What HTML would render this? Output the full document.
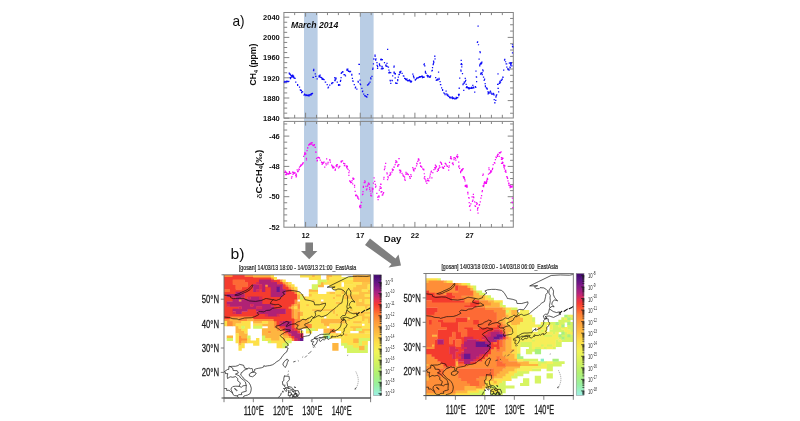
<!DOCTYPE html>
<html lang="en"><head><meta charset="utf-8"><title>CH4 and d13C-CH4 at Gosan, March 2014</title>
<style>html,body{margin:0;padding:0;background:#fff}body{width:800px;height:421px;overflow:hidden}svg{display:block}text{font-family:"Liberation Sans", Arial, Helvetica, sans-serif}</style></head><body>
<svg width="800" height="421" viewBox="0 0 800 421">
<defs><linearGradient id="cb" x1="0" y1="0" x2="0" y2="1"><stop offset="0" stop-color="#43106e"/><stop offset="0.05" stop-color="#5a1282"/><stop offset="0.11" stop-color="#8a1c88"/><stop offset="0.165" stop-color="#b8247a"/><stop offset="0.21" stop-color="#e23052"/><stop offset="0.245" stop-color="#f63a30"/><stop offset="0.29" stop-color="#fd5a30"/><stop offset="0.335" stop-color="#fe8035"/><stop offset="0.39" stop-color="#fe9a3a"/><stop offset="0.47" stop-color="#feb940"/><stop offset="0.56" stop-color="#fde04a"/><stop offset="0.64" stop-color="#f1f457"/><stop offset="0.73" stop-color="#d2f25e"/><stop offset="0.82" stop-color="#b0f173"/><stop offset="0.91" stop-color="#98f0a0"/><stop offset="1" stop-color="#9cf0e6"/></linearGradient><filter id="soft" x="-2%" y="-2%" width="104%" height="104%"><feGaussianBlur stdDeviation="0.45"/></filter><filter id="soft2" x="-2%" y="-2%" width="104%" height="104%"><feGaussianBlur stdDeviation="0.3"/></filter><filter id="soft3" x="-2%" y="-2%" width="104%" height="104%"><feGaussianBlur stdDeviation="0.22"/></filter></defs>
<rect width="800" height="421" fill="#fff"/>
<g id="charts" filter="url(#soft2)">
<rect x="304" y="12.5" width="13.6" height="214.7" fill="#b9cde5"/>
<rect x="360" y="12.5" width="13.6" height="214.7" fill="#b9cde5"/>
<g fill="none" stroke="#848484" stroke-width="1">
<rect x="283.9" y="12.5" width="229.4" height="105.5"/>
<rect x="283.9" y="121.4" width="229.4" height="105.8"/>
<path d="M294.67 12.5v2.6M294.67 118v-3.2M294.67 121.4v2.6M294.67 227.2v-3.2M305.6 12.5v4.2M305.6 118v-5.3M305.6 121.4v4.2M305.6 227.2v-5.3M316.53 12.5v2.6M316.53 118v-3.2M316.53 121.4v2.6M316.53 227.2v-3.2M327.46 12.5v2.6M327.46 118v-3.2M327.46 121.4v2.6M327.46 227.2v-3.2M338.39 12.5v2.6M338.39 118v-3.2M338.39 121.4v2.6M338.39 227.2v-3.2M349.32 12.5v2.6M349.32 118v-3.2M349.32 121.4v2.6M349.32 227.2v-3.2M360.25 12.5v4.2M360.25 118v-5.3M360.25 121.4v4.2M360.25 227.2v-5.3M371.18 12.5v2.6M371.18 118v-3.2M371.18 121.4v2.6M371.18 227.2v-3.2M382.11 12.5v2.6M382.11 118v-3.2M382.11 121.4v2.6M382.11 227.2v-3.2M393.04 12.5v2.6M393.04 118v-3.2M393.04 121.4v2.6M393.04 227.2v-3.2M403.97 12.5v2.6M403.97 118v-3.2M403.97 121.4v2.6M403.97 227.2v-3.2M414.9 12.5v4.2M414.9 118v-5.3M414.9 121.4v4.2M414.9 227.2v-5.3M425.83 12.5v2.6M425.83 118v-3.2M425.83 121.4v2.6M425.83 227.2v-3.2M436.76 12.5v2.6M436.76 118v-3.2M436.76 121.4v2.6M436.76 227.2v-3.2M447.69 12.5v2.6M447.69 118v-3.2M447.69 121.4v2.6M447.69 227.2v-3.2M458.62 12.5v2.6M458.62 118v-3.2M458.62 121.4v2.6M458.62 227.2v-3.2M469.55 12.5v4.2M469.55 118v-5.3M469.55 121.4v4.2M469.55 227.2v-5.3M480.48 12.5v2.6M480.48 118v-3.2M480.48 121.4v2.6M480.48 227.2v-3.2M491.41 12.5v2.6M491.41 118v-3.2M491.41 121.4v2.6M491.41 227.2v-3.2M502.34 12.5v2.6M502.34 118v-3.2M502.34 121.4v2.6M502.34 227.2v-3.2M283.9 118.2h5.4M283.9 113.15h3.3M283.9 108.1h3.3M283.9 103.05h3.3M283.9 98h5.4M283.9 92.95h3.3M283.9 87.9h3.3M283.9 82.85h3.3M283.9 77.8h5.4M283.9 72.75h3.3M283.9 67.7h3.3M283.9 62.65h3.3M283.9 57.6h5.4M283.9 52.55h3.3M283.9 47.5h3.3M283.9 42.45h3.3M283.9 37.4h5.4M283.9 32.35h3.3M283.9 27.3h3.3M283.9 22.25h3.3M283.9 17.2h5.4M513.3 18.44h-3.2M513.3 24.76h-3.2M513.3 31.08h-3.2M513.3 37.4h-5.6M513.3 43.72h-3.2M513.3 50.04h-3.2M513.3 56.36h-3.2M513.3 62.68h-3.2M513.3 69h-5.6M513.3 75.32h-3.2M513.3 81.64h-3.2M513.3 87.96h-3.2M513.3 94.28h-3.2M513.3 100.6h-5.6M513.3 106.92h-3.2M513.3 113.24h-3.2M283.9 123.98h3.3M513.3 123.98h-3.2M283.9 130.04h3.3M513.3 130.04h-3.2M283.9 136.1h5.4M513.3 136.1h-5.6M283.9 142.16h3.3M513.3 142.16h-3.2M283.9 148.22h3.3M513.3 148.22h-3.2M283.9 154.28h3.3M513.3 154.28h-3.2M283.9 160.34h3.3M513.3 160.34h-3.2M283.9 166.4h5.4M513.3 166.4h-5.6M283.9 172.46h3.3M513.3 172.46h-3.2M283.9 178.52h3.3M513.3 178.52h-3.2M283.9 184.58h3.3M513.3 184.58h-3.2M283.9 190.64h3.3M513.3 190.64h-3.2M283.9 196.7h5.4M513.3 196.7h-5.6M283.9 202.76h3.3M513.3 202.76h-3.2M283.9 208.82h3.3M513.3 208.82h-3.2M283.9 214.88h3.3M513.3 214.88h-3.2M283.9 220.94h3.3M513.3 220.94h-3.2"/>
</g>
<path d="M283.79 81.46h1.24v1.24h-1.24zM285.05 81.21h1.24v1.24h-1.24zM286.31 81.08h1.24v1.24h-1.24zM288.2 80.83h1.24v1.24h-1.24zM288.83 73.27h1.24v1.24h-1.24zM290.09 74.53h1.24v1.24h-1.24zM291.34 75.79h1.24v1.24h-1.24zM291.97 74.53h1.24v1.24h-1.24zM293.23 77.05h1.24v1.24h-1.24zM294.49 77.68h1.24v1.24h-1.24zM289.46 77.05h1.24v1.24h-1.24zM290.72 76.42h1.24v1.24h-1.24zM292.6 75.16h1.24v1.24h-1.24zM295.12 81.46h1.24v1.24h-1.24zM297.01 83.98h1.24v1.24h-1.24zM298.9 86.5h1.24v1.24h-1.24zM300.16 89.64h1.24v1.24h-1.24zM302.05 91.16h1.24v1.24h-1.24zM303.94 93.42h1.24v1.24h-1.24zM305.2 94.93h1.24v1.24h-1.24zM306.46 94.68h1.24v1.24h-1.24zM307.72 94.43h1.24v1.24h-1.24zM308.98 94.18h1.24v1.24h-1.24zM310.24 93.8h1.24v1.24h-1.24zM310.87 93.42h1.24v1.24h-1.24zM311.87 92.79h1.24v1.24h-1.24zM312.38 76.8h1.24v1.24h-1.24zM313.13 68.86h1.24v1.24h-1.24zM313.13 70.12h1.24v1.24h-1.24zM314.64 73.27h1.24v1.24h-1.24zM315.27 75.79h1.24v1.24h-1.24zM316.53 78.31h1.24v1.24h-1.24zM318.42 75.16h1.24v1.24h-1.24zM319.68 76.42h1.24v1.24h-1.24zM321.57 77.68h1.24v1.24h-1.24zM323.46 78.94h1.24v1.24h-1.24zM324.72 81.46h1.24v1.24h-1.24zM326.61 83.98h1.24v1.24h-1.24zM327.87 86.5h1.24v1.24h-1.24zM329.13 84.61h1.24v1.24h-1.24zM331.02 82.72h1.24v1.24h-1.24zM332.28 82.09h1.24v1.24h-1.24zM334.17 77.05h1.24v1.24h-1.24zM334.17 79.57h1.24v1.24h-1.24zM335.43 78.31h1.24v1.24h-1.24zM336.68 81.46h1.24v1.24h-1.24zM337.94 83.98h1.24v1.24h-1.24zM339.2 84.61h1.24v1.24h-1.24zM339.83 80.83h1.24v1.24h-1.24zM340.46 77.05h1.24v1.24h-1.24zM341.09 72.01h1.24v1.24h-1.24zM342.35 71.38h1.24v1.24h-1.24zM343.61 73.9h1.24v1.24h-1.24zM344.87 75.16h1.24v1.24h-1.24zM346.13 69.49h1.24v1.24h-1.24zM347.39 70.12h1.24v1.24h-1.24zM348.65 70.75h1.24v1.24h-1.24zM349.91 70.75h1.24v1.24h-1.24zM351.17 74.53h1.24v1.24h-1.24zM351.8 77.68h1.24v1.24h-1.24zM352.43 80.83h1.24v1.24h-1.24zM353.69 83.98h1.24v1.24h-1.24zM354.95 86.5h1.24v1.24h-1.24zM356.21 88.39h1.24v1.24h-1.24zM357.47 80.83h1.24v1.24h-1.24zM358.73 73.27h1.24v1.24h-1.24zM358.73 63.83h1.24v1.24h-1.24zM359.35 79.57h1.24v1.24h-1.24zM359.98 83.98h1.24v1.24h-1.24zM361.24 87.76h1.24v1.24h-1.24zM361.87 90.9h1.24v1.24h-1.24zM363.13 93.42h1.24v1.24h-1.24zM364.39 95.31h1.24v1.24h-1.24zM366.28 96.57h1.24v1.24h-1.24zM366.91 94.05h1.24v1.24h-1.24zM366.91 84.61h1.24v1.24h-1.24zM368.17 83.35h1.24v1.24h-1.24zM369.43 81.46h1.24v1.24h-1.24zM370.31 78.31h1.24v1.24h-1.24zM371.32 75.79h1.24v1.24h-1.24zM372.33 67.6h1.24v1.24h-1.24zM372.83 63.2h1.24v1.24h-1.24zM373.21 58.16h1.24v1.24h-1.24zM374.47 55.64h1.24v1.24h-1.24zM375.1 59.42h1.24v1.24h-1.24zM376.36 61.94h1.24v1.24h-1.24zM376.99 65.72h1.24v1.24h-1.24zM376.99 67.6h1.24v1.24h-1.24zM378.88 63.83h1.24v1.24h-1.24zM374.42 54.49h1.24v1.24h-1.24zM375.05 58.9h1.24v1.24h-1.24zM376.31 62.05h1.24v1.24h-1.24zM376.94 65.83h1.24v1.24h-1.24zM376.94 67.72h1.24v1.24h-1.24zM378.83 63.31h1.24v1.24h-1.24zM379.46 65.2h1.24v1.24h-1.24zM380.09 58.9h1.24v1.24h-1.24zM381.72 58.9h1.24v1.24h-1.24zM381.34 65.83h1.24v1.24h-1.24zM380.72 68.35h1.24v1.24h-1.24zM382.6 67.72h1.24v1.24h-1.24zM383.86 62.05h1.24v1.24h-1.24zM385.12 65.2h1.24v1.24h-1.24zM386.38 62.68h1.24v1.24h-1.24zM386.38 65.83h1.24v1.24h-1.24zM387.01 48.83h1.24v1.24h-1.24zM387.64 66.46h1.24v1.24h-1.24zM388.27 69.61h1.24v1.24h-1.24zM388.27 72.38h1.24v1.24h-1.24zM390.16 72.13h1.24v1.24h-1.24zM389.53 79.68h1.24v1.24h-1.24zM390.16 82.83h1.24v1.24h-1.24zM391.42 79.68h1.24v1.24h-1.24zM392.05 75.27h1.24v1.24h-1.24zM393.31 66.46h1.24v1.24h-1.24zM393.31 72.38h1.24v1.24h-1.24zM394.57 73.39h1.24v1.24h-1.24zM394.57 77.16h1.24v1.24h-1.24zM395.2 82.2h1.24v1.24h-1.24zM396.46 82.83h1.24v1.24h-1.24zM397.09 79.05h1.24v1.24h-1.24zM397.72 76.53h1.24v1.24h-1.24zM398.35 74.01h1.24v1.24h-1.24zM398.98 71.5h1.24v1.24h-1.24zM400.24 70.87h1.24v1.24h-1.24zM401.5 72.76h1.24v1.24h-1.24zM402.76 75.27h1.24v1.24h-1.24zM404.01 77.79h1.24v1.24h-1.24zM405.27 79.05h1.24v1.24h-1.24zM406.53 79.68h1.24v1.24h-1.24zM408.42 79.68h1.24v1.24h-1.24zM409.68 80.31h1.24v1.24h-1.24zM410.94 80.69h1.24v1.24h-1.24zM412.2 73.39h1.24v1.24h-1.24zM412.83 75.27h1.24v1.24h-1.24zM413.46 77.16h1.24v1.24h-1.24zM414.72 79.05h1.24v1.24h-1.24zM415.98 77.79h1.24v1.24h-1.24zM417.24 77.16h1.24v1.24h-1.24zM418.5 76.53h1.24v1.24h-1.24zM419.76 75.9h1.24v1.24h-1.24zM421.02 75.65h1.24v1.24h-1.24zM422.28 76.28h1.24v1.24h-1.24zM423.54 76.53h1.24v1.24h-1.24zM423.79 63.31h1.24v1.24h-1.24zM424.17 65.2h1.24v1.24h-1.24zM424.8 70.87h1.24v1.24h-1.24zM425.43 72.76h1.24v1.24h-1.24zM426.68 74.64h1.24v1.24h-1.24zM427.94 75.27h1.24v1.24h-1.24zM429.2 76.53h1.24v1.24h-1.24zM430.01 75.23h1.24v1.24h-1.24zM431.27 70.2h1.24v1.24h-1.24zM431.9 67.05h1.24v1.24h-1.24zM432.53 63.9h1.24v1.24h-1.24zM433.16 62.01h1.24v1.24h-1.24zM435.05 77.12h1.24v1.24h-1.24zM435.68 79.64h1.24v1.24h-1.24zM436.94 78.38h1.24v1.24h-1.24zM437.94 71.46h1.24v1.24h-1.24zM438.45 77.75h1.24v1.24h-1.24zM439.46 80.9h1.24v1.24h-1.24zM440.09 84.05h1.24v1.24h-1.24zM440.97 87.2h1.24v1.24h-1.24zM441.97 89.09h1.24v1.24h-1.24zM443.23 92.24h1.24v1.24h-1.24zM444.49 94.13h1.24v1.24h-1.24zM445.5 90.6h1.24v1.24h-1.24zM446.38 94.38h1.24v1.24h-1.24zM447.64 95.39h1.24v1.24h-1.24zM448.9 96.39h1.24v1.24h-1.24zM450.16 97.27h1.24v1.24h-1.24zM452.05 97.9h1.24v1.24h-1.24zM453.94 98.16h1.24v1.24h-1.24zM455.83 97.9h1.24v1.24h-1.24zM457.09 96.9h1.24v1.24h-1.24zM458.1 95.13h1.24v1.24h-1.24zM458.6 93.87h1.24v1.24h-1.24zM458.6 87.83h1.24v1.24h-1.24zM459.1 77.5h1.24v1.24h-1.24zM460.24 69.57h1.24v1.24h-1.24zM461.12 66.17h1.24v1.24h-1.24zM460.87 63.27h1.24v1.24h-1.24zM461.87 72.97h1.24v1.24h-1.24zM462.38 84.05h1.24v1.24h-1.24zM463.13 89.72h1.24v1.24h-1.24zM463.64 81.53h1.24v1.24h-1.24zM464.64 77.75h1.24v1.24h-1.24zM464.64 80.9h1.24v1.24h-1.24zM465.53 83.8h1.24v1.24h-1.24zM466.16 85.94h1.24v1.24h-1.24zM467.16 87.2h1.24v1.24h-1.24zM468.67 87.83h1.24v1.24h-1.24zM470.31 87.83h1.24v1.24h-1.24zM471.57 87.2h1.24v1.24h-1.24zM472.2 84.68h1.24v1.24h-1.24zM473.21 87.2h1.24v1.24h-1.24zM474.09 91.61h1.24v1.24h-1.24zM474.72 85.94h1.24v1.24h-1.24zM475.98 80.9h1.24v1.24h-1.24zM475.73 76.24h1.24v1.24h-1.24zM475.35 70.45h1.24v1.24h-1.24zM479.13 64.15h1.24v1.24h-1.24zM480.39 62.64h1.24v1.24h-1.24zM480.39 72.46h1.24v1.24h-1.24zM481.65 73.97h1.24v1.24h-1.24zM482.53 70.2h1.24v1.24h-1.24zM482.91 76.49h1.24v1.24h-1.24zM483.54 79.64h1.24v1.24h-1.24zM484.54 83.04h1.24v1.24h-1.24zM484.8 85.31h1.24v1.24h-1.24zM485.8 87.2h1.24v1.24h-1.24zM486.68 88.46h1.24v1.24h-1.24zM487.31 91.35h1.24v1.24h-1.24zM488.57 92.61h1.24v1.24h-1.24zM489.83 90.6h1.24v1.24h-1.24zM490.46 92.87h1.24v1.24h-1.24zM491.72 93.5h1.24v1.24h-1.24zM492.98 93.12h1.24v1.24h-1.24zM493.61 98.91h1.24v1.24h-1.24zM494.24 102.31h1.24v1.24h-1.24zM495.12 99.79h1.24v1.24h-1.24zM495.5 95.39h1.24v1.24h-1.24zM496.13 94.13h1.24v1.24h-1.24zM497.01 83.8h1.24v1.24h-1.24zM497.39 73.34h1.24v1.24h-1.24zM497.64 87.83h1.24v1.24h-1.24zM498.02 91.35h1.24v1.24h-1.24zM498.65 82.79h1.24v1.24h-1.24zM499.91 81.53h1.24v1.24h-1.24zM500.92 79.64h1.24v1.24h-1.24zM501.8 78.38h1.24v1.24h-1.24zM502.43 76.75h1.24v1.24h-1.24zM503.06 69.57h1.24v1.24h-1.24zM505.58 63.27h1.24v1.24h-1.24zM506.21 66.42h1.24v1.24h-1.24zM507.21 68.31h1.24v1.24h-1.24zM508.47 69.57h1.24v1.24h-1.24zM509.35 66.42h1.24v1.24h-1.24zM509.98 64.53h1.24v1.24h-1.24zM510.61 62.64h1.24v1.24h-1.24zM511.24 65.16h1.24v1.24h-1.24zM434.17 55.46h1.24v1.24h-1.24zM434.42 58.23h1.24v1.24h-1.24zM433.16 61.51h1.24v1.24h-1.24zM460.61 59.87h1.24v1.24h-1.24zM460.87 63.02h1.24v1.24h-1.24zM477.49 25.49h1.24v1.24h-1.24zM476.99 41.35h1.24v1.24h-1.24zM477.87 44.13h1.24v1.24h-1.24zM479.38 51.05h1.24v1.24h-1.24zM478.5 58.61h1.24v1.24h-1.24zM481.27 61.51h1.24v1.24h-1.24zM479.76 63.02h1.24v1.24h-1.24zM503.94 59.49h1.24v1.24h-1.24zM504.95 61.13h1.24v1.24h-1.24zM505.58 63.27h1.24v1.24h-1.24zM508.73 62.39h1.24v1.24h-1.24zM510.61 63.02h1.24v1.24h-1.24zM511.87 44.13h1.24v1.24h-1.24zM511.87 46.01h1.24v1.24h-1.24zM511.87 52.31h1.24v1.24h-1.24zM284.42 81.09h1.24v1.24h-1.24zM285.68 81.14h1.24v1.24h-1.24zM286.94 81.12h1.24v1.24h-1.24zM287.57 80.91h1.24v1.24h-1.24zM289.46 73.78h1.24v1.24h-1.24zM290.72 75.04h1.24v1.24h-1.24zM291.66 75.16h1.24v1.24h-1.24zM293.86 77.6h1.24v1.24h-1.24zM290.09 76.98h1.24v1.24h-1.24zM291.34 75.88h1.24v1.24h-1.24zM291.97 75.34h1.24v1.24h-1.24zM300.79 89.79h1.24v1.24h-1.24zM301.42 91.01h1.24v1.24h-1.24zM304.57 93.94h1.24v1.24h-1.24zM305.83 94.81h1.24v1.24h-1.24zM307.09 94.92h1.24v1.24h-1.24zM308.35 94.18h1.24v1.24h-1.24zM309.61 94.11h1.24v1.24h-1.24zM310.55 93.49h1.24v1.24h-1.24zM311.37 93.35h1.24v1.24h-1.24zM319.05 75.67h1.24v1.24h-1.24zM320.31 76.72h1.24v1.24h-1.24zM320.94 77.02h1.24v1.24h-1.24zM322.2 78.34h1.24v1.24h-1.24zM322.83 78.64h1.24v1.24h-1.24zM331.65 82.16h1.24v1.24h-1.24zM334.8 79.3h1.24v1.24h-1.24zM338.57 84.05h1.24v1.24h-1.24zM341.72 71.46h1.24v1.24h-1.24zM344.24 74.29h1.24v1.24h-1.24zM346.76 69.57h1.24v1.24h-1.24zM348.02 70.8h1.24v1.24h-1.24zM349.28 70.99h1.24v1.24h-1.24zM365.02 95.61h1.24v1.24h-1.24zM365.65 95.91h1.24v1.24h-1.24zM367.54 83.98h1.24v1.24h-1.24zM380.63 59.26h1.24v1.24h-1.24zM381.18 59.14h1.24v1.24h-1.24zM381.34 67.78h1.24v1.24h-1.24zM381.97 68.29h1.24v1.24h-1.24zM388.9 72.17h1.24v1.24h-1.24zM389.53 71.97h1.24v1.24h-1.24zM393.94 72.52h1.24v1.24h-1.24zM395.83 82.76h1.24v1.24h-1.24zM399.61 71.18h1.24v1.24h-1.24zM404.64 78.06h1.24v1.24h-1.24zM405.9 79.01h1.24v1.24h-1.24zM407.16 80.04h1.24v1.24h-1.24zM407.79 79.92h1.24v1.24h-1.24zM409.05 80.36h1.24v1.24h-1.24zM410.31 80.62h1.24v1.24h-1.24zM415.35 78.78h1.24v1.24h-1.24zM416.61 77.24h1.24v1.24h-1.24zM417.87 77.09h1.24v1.24h-1.24zM419.13 75.98h1.24v1.24h-1.24zM420.39 75.9h1.24v1.24h-1.24zM421.65 75.61h1.24v1.24h-1.24zM422.91 76.77h1.24v1.24h-1.24zM427.31 75.32h1.24v1.24h-1.24zM428.57 76.14h1.24v1.24h-1.24zM429.61 76.12h1.24v1.24h-1.24zM436.31 78.89h1.24v1.24h-1.24zM447.01 94.88h1.24v1.24h-1.24zM448.27 95.77h1.24v1.24h-1.24zM449.53 96.47h1.24v1.24h-1.24zM450.79 97.24h1.24v1.24h-1.24zM451.42 97.33h1.24v1.24h-1.24zM452.68 97.87h1.24v1.24h-1.24zM453.31 97.83h1.24v1.24h-1.24zM454.57 98.19h1.24v1.24h-1.24zM455.2 97.99h1.24v1.24h-1.24zM456.46 97.28h1.24v1.24h-1.24zM458.35 94.38h1.24v1.24h-1.24zM466.66 86.45h1.24v1.24h-1.24zM467.67 87.05h1.24v1.24h-1.24zM468.17 87.98h1.24v1.24h-1.24zM469.22 87.59h1.24v1.24h-1.24zM469.77 87.47h1.24v1.24h-1.24zM470.94 87.87h1.24v1.24h-1.24zM479.76 63.52h1.24v1.24h-1.24zM481.02 73.1h1.24v1.24h-1.24zM486.24 87.95h1.24v1.24h-1.24zM487.94 92.1h1.24v1.24h-1.24zM491.09 93.54h1.24v1.24h-1.24zM492.35 93.55h1.24v1.24h-1.24zM495.82 94.52h1.24v1.24h-1.24zM499.28 81.92h1.24v1.24h-1.24zM501.36 78.77h1.24v1.24h-1.24zM507.84 68.7h1.24v1.24h-1.24zM480.77 62.13h1.24v1.24h-1.24zM480.26 62.51h1.24v1.24h-1.24zM509.35 62.36h1.24v1.24h-1.24zM509.98 62.45h1.24v1.24h-1.24zM284.01 81.46h1.24v1.24h-1.24zM286.09 80.38h1.24v1.24h-1.24zM288.61 72.57h1.24v1.24h-1.24zM291.56 75.09h1.24v1.24h-1.24zM293.67 77.4h1.24v1.24h-1.24zM289.9 78.1h1.24v1.24h-1.24zM293.04 75.86h1.24v1.24h-1.24zM297.01 84.68h1.24v1.24h-1.24zM299.72 89.29h1.24v1.24h-1.24zM303.5 94.47h1.24v1.24h-1.24zM306.02 94.33h1.24v1.24h-1.24zM308.54 95.23h1.24v1.24h-1.24zM310.87 93.07h1.24v1.24h-1.24zM312.82 76.8h1.24v1.24h-1.24zM312.91 70.12h1.24v1.24h-1.24zM315.05 75.79h1.24v1.24h-1.24zM318.42 76.21h1.24v1.24h-1.24zM321.57 78.73h1.24v1.24h-1.24zM324.94 81.46h1.24v1.24h-1.24zM327.43 87.2h1.24v1.24h-1.24zM331.24 83.07h1.24v1.24h-1.24zM334.61 77.4h1.24v1.24h-1.24zM335.43 77.61h1.24v1.24h-1.24zM337.94 84.68h1.24v1.24h-1.24zM340.05 79.78h1.24v1.24h-1.24zM340.65 72.71h1.24v1.24h-1.24zM343.39 73.9h1.24v1.24h-1.24zM346.57 68.44h1.24v1.24h-1.24zM349.09 70.75h1.24v1.24h-1.24zM351.17 73.83h1.24v1.24h-1.24zM352.21 80.13h1.24v1.24h-1.24zM354.73 87.2h1.24v1.24h-1.24zM357.69 81.53h1.24v1.24h-1.24zM358.29 63.83h1.24v1.24h-1.24zM359.54 83.28h1.24v1.24h-1.24zM362.09 90.55h1.24v1.24h-1.24zM364.17 94.96h1.24v1.24h-1.24zM367.13 94.05h1.24v1.24h-1.24zM368.39 82.65h1.24v1.24h-1.24zM370.09 77.26h1.24v1.24h-1.24zM372.11 68.65h1.24v1.24h-1.24zM373.21 58.51h1.24v1.24h-1.24zM375.32 58.37h1.24v1.24h-1.24zM376.55 64.67h1.24v1.24h-1.24zM379.1 64.88h1.24v1.24h-1.24zM375.05 59.6h1.24v1.24h-1.24zM376.5 64.78h1.24v1.24h-1.24zM378.83 63.66h1.24v1.24h-1.24zM380.53 58.55h1.24v1.24h-1.24zM381.56 66.18h1.24v1.24h-1.24zM382.6 67.72h1.24v1.24h-1.24zM385.34 64.15h1.24v1.24h-1.24zM385.94 65.48h1.24v1.24h-1.24zM387.86 66.46h1.24v1.24h-1.24zM388.27 72.03h1.24v1.24h-1.24zM389.75 80.38h1.24v1.24h-1.24zM391.64 80.03h1.24v1.24h-1.24zM393.53 65.41h1.24v1.24h-1.24zM394.79 73.04h1.24v1.24h-1.24zM394.98 82.55h1.24v1.24h-1.24zM397.09 80.1h1.24v1.24h-1.24zM398.79 73.66h1.24v1.24h-1.24zM399.8 71.57h1.24v1.24h-1.24zM403.2 75.62h1.24v1.24h-1.24zM405.05 78.7h1.24v1.24h-1.24zM408.86 79.33h1.24v1.24h-1.24zM410.5 81.39h1.24v1.24h-1.24zM413.05 76.32h1.24v1.24h-1.24zM414.72 79.4h1.24v1.24h-1.24zM417.46 77.16h1.24v1.24h-1.24zM419.32 76.6h1.24v1.24h-1.24zM421.84 76.98h1.24v1.24h-1.24zM423.35 64.01h1.24v1.24h-1.24zM424.8 71.92h1.24v1.24h-1.24zM426.46 74.99h1.24v1.24h-1.24zM429.2 76.18h1.24v1.24h-1.24zM431.71 69.85h1.24v1.24h-1.24zM432.75 63.2h1.24v1.24h-1.24zM435.05 77.12h1.24v1.24h-1.24zM437.16 79.43h1.24v1.24h-1.24zM438.45 78.8h1.24v1.24h-1.24zM439.87 84.05h1.24v1.24h-1.24zM441.97 89.79h1.24v1.24h-1.24zM444.27 93.08h1.24v1.24h-1.24zM446.16 93.33h1.24v1.24h-1.24zM449.12 97.09h1.24v1.24h-1.24zM451.83 97.55h1.24v1.24h-1.24zM455.61 96.85h1.24v1.24h-1.24zM458.54 94.08h1.24v1.24h-1.24zM458.6 87.48h1.24v1.24h-1.24zM460.46 70.62h1.24v1.24h-1.24zM461.31 63.97h1.24v1.24h-1.24zM462.6 83.35h1.24v1.24h-1.24zM463.64 82.58h1.24v1.24h-1.24zM465.08 79.85h1.24v1.24h-1.24zM465.72 86.99h1.24v1.24h-1.24zM468.45 88.18h1.24v1.24h-1.24zM472.01 87.55h1.24v1.24h-1.24zM472.77 86.5h1.24v1.24h-1.24zM475.16 86.64h1.24v1.24h-1.24zM475.95 76.59h1.24v1.24h-1.24zM479.13 65.2h1.24v1.24h-1.24zM479.95 73.51h1.24v1.24h-1.24zM482.09 69.15h1.24v1.24h-1.24zM483.98 78.59h1.24v1.24h-1.24zM484.8 86.01h1.24v1.24h-1.24zM486.46 87.76h1.24v1.24h-1.24zM488.57 91.56h1.24v1.24h-1.24zM490.24 91.82h1.24v1.24h-1.24zM493.42 94.17h1.24v1.24h-1.24zM494.24 101.96h1.24v1.24h-1.24zM495.28 96.44h1.24v1.24h-1.24zM497.45 83.8h1.24v1.24h-1.24zM497.42 87.83h1.24v1.24h-1.24zM499.09 82.79h1.24v1.24h-1.24zM500.48 79.64h1.24v1.24h-1.24zM502.21 76.4h1.24v1.24h-1.24zM506.02 63.27h1.24v1.24h-1.24zM506.99 68.31h1.24v1.24h-1.24zM509.57 67.12h1.24v1.24h-1.24zM510.17 63.69h1.24v1.24h-1.24zM434.17 55.81h1.24v1.24h-1.24zM432.94 60.46h1.24v1.24h-1.24zM460.43 63.72h1.24v1.24h-1.24zM476.77 41.7h1.24v1.24h-1.24zM479.6 52.1h1.24v1.24h-1.24zM481.05 62.56h1.24v1.24h-1.24zM504.16 58.79h1.24v1.24h-1.24zM506.02 63.27h1.24v1.24h-1.24zM510.61 61.97h1.24v1.24h-1.24zM512.31 46.36h1.24v1.24h-1.24zM284.2 80.74h1.24v1.24h-1.24zM286.5 80.42h1.24v1.24h-1.24zM289.68 73.43h1.24v1.24h-1.24zM292.1 74.81h1.24v1.24h-1.24zM289.87 78.03h1.24v1.24h-1.24zM292.19 76.39h1.24v1.24h-1.24zM300.98 92.06h1.24v1.24h-1.24zM306.27 94.46h1.24v1.24h-1.24zM308.13 95.23h1.24v1.24h-1.24zM310.33 94.54h1.24v1.24h-1.24zM319.49 74.62h1.24v1.24h-1.24zM320.94 77.37h1.24v1.24h-1.24zM322.39 78.29h1.24v1.24h-1.24zM334.36 80h1.24v1.24h-1.24zM342.16 71.11h1.24v1.24h-1.24zM347.2 68.52h1.24v1.24h-1.24zM349.28 71.34h1.24v1.24h-1.24zM365.87 95.91h1.24v1.24h-1.24zM381.07 58.91h1.24v1.24h-1.24zM381.12 68.13h1.24v1.24h-1.24zM388.9 71.47h1.24v1.24h-1.24zM393.5 71.47h1.24v1.24h-1.24zM399.61 72.23h1.24v1.24h-1.24zM406.34 78.31h1.24v1.24h-1.24zM407.35 80.27h1.24v1.24h-1.24zM409.87 81.32h1.24v1.24h-1.24zM416.39 77.59h1.24v1.24h-1.24zM419.35 76.68h1.24v1.24h-1.24zM421.43 75.61h1.24v1.24h-1.24zM427.09 76.37h1.24v1.24h-1.24zM429.39 76.82h1.24v1.24h-1.24zM447.23 94.18h1.24v1.24h-1.24zM449.75 97.17h1.24v1.24h-1.24zM451.64 96.28h1.24v1.24h-1.24zM453.09 97.13h1.24v1.24h-1.24zM455.64 96.94h1.24v1.24h-1.24zM457.91 93.68h1.24v1.24h-1.24zM468.11 87.4h1.24v1.24h-1.24zM469 87.24h1.24v1.24h-1.24zM470.94 86.82h1.24v1.24h-1.24zM481.46 72.05h1.24v1.24h-1.24zM487.5 93.15h1.24v1.24h-1.24zM492.57 92.85h1.24v1.24h-1.24zM499.28 80.87h1.24v1.24h-1.24zM507.62 69.05h1.24v1.24h-1.24zM480.7 63.21h1.24v1.24h-1.24zM510.42 63.15h1.24v1.24h-1.24z" fill="#1010f8"/>
<path d="M284.42 171.53h1.24v1.24h-1.24zM285.05 174.05h1.24v1.24h-1.24zM286.31 172.79h1.24v1.24h-1.24zM287.57 173.42h1.24v1.24h-1.24zM288.83 172.16h1.24v1.24h-1.24zM290.09 172.79h1.24v1.24h-1.24zM291.34 175.94h1.24v1.24h-1.24zM291.97 171.53h1.24v1.24h-1.24zM293.23 172.79h1.24v1.24h-1.24zM294.49 172.16h1.24v1.24h-1.24zM295.12 174.68h1.24v1.24h-1.24zM295.75 173.42h1.24v1.24h-1.24zM297.01 170.9h1.24v1.24h-1.24zM297.64 170.27h1.24v1.24h-1.24zM298.27 168.39h1.24v1.24h-1.24zM298.9 166.5h1.24v1.24h-1.24zM300.16 164.61h1.24v1.24h-1.24zM301.42 163.98h1.24v1.24h-1.24zM302.3 163.1h1.24v1.24h-1.24zM303.06 155.79h1.24v1.24h-1.24zM303.94 153.9h1.24v1.24h-1.24zM305.2 153.27h1.24v1.24h-1.24zM305.83 157.68h1.24v1.24h-1.24zM306.46 150.12h1.24v1.24h-1.24zM307.09 146.97h1.24v1.24h-1.24zM308.1 144.46h1.24v1.24h-1.24zM308.98 143.2h1.24v1.24h-1.24zM310.24 142.57h1.24v1.24h-1.24zM311.5 141.94h1.24v1.24h-1.24zM312.13 144.46h1.24v1.24h-1.24zM313.39 145.09h1.24v1.24h-1.24zM314.64 146.72h1.24v1.24h-1.24zM315.27 151.76h1.24v1.24h-1.24zM315.9 157.68h1.24v1.24h-1.24zM316.53 160.2h1.24v1.24h-1.24zM317.16 157.05h1.24v1.24h-1.24zM318.42 157.05h1.24v1.24h-1.24zM319.68 159.57h1.24v1.24h-1.24zM320.94 161.46h1.24v1.24h-1.24zM322.2 162.72h1.24v1.24h-1.24zM323.46 161.46h1.24v1.24h-1.24zM324.09 166.5h1.24v1.24h-1.24zM325.35 162.72h1.24v1.24h-1.24zM325.98 158.31h1.24v1.24h-1.24zM327.24 163.35h1.24v1.24h-1.24zM329.13 158.94h1.24v1.24h-1.24zM329.76 161.46h1.24v1.24h-1.24zM331.02 164.61h1.24v1.24h-1.24zM332.28 165.87h1.24v1.24h-1.24zM333.54 166.87h1.24v1.24h-1.24zM334.54 169.64h1.24v1.24h-1.24zM335.43 165.24h1.24v1.24h-1.24zM336.68 163.98h1.24v1.24h-1.24zM337.94 167.38h1.24v1.24h-1.24zM339.2 165.87h1.24v1.24h-1.24zM340.46 160.83h1.24v1.24h-1.24zM341.72 160.2h1.24v1.24h-1.24zM342.98 162.72h1.24v1.24h-1.24zM344.24 163.35h1.24v1.24h-1.24zM345.5 165.24h1.24v1.24h-1.24zM346.76 165.87h1.24v1.24h-1.24zM347.39 168.64h1.24v1.24h-1.24zM348.27 171.9h1.24v1.24h-1.24zM348.27 174.67h1.24v1.24h-1.24zM349.53 180.72h1.24v1.24h-1.24zM350.16 181.97h1.24v1.24h-1.24zM351.42 180.09h1.24v1.24h-1.24zM352.05 183.23h1.24v1.24h-1.24zM352.68 178.83h1.24v1.24h-1.24zM353.31 178.2h1.24v1.24h-1.24zM353.94 184.75h1.24v1.24h-1.24zM354.57 190.79h1.24v1.24h-1.24zM355.2 194.57h1.24v1.24h-1.24zM356.46 195.2h1.24v1.24h-1.24zM357.34 196.46h1.24v1.24h-1.24zM358.1 198.6h1.24v1.24h-1.24zM358.98 205.9h1.24v1.24h-1.24zM359.61 204.64h1.24v1.24h-1.24zM360.24 206.53h1.24v1.24h-1.24zM360.87 201.87h1.24v1.24h-1.24zM361.87 193.94h1.24v1.24h-1.24zM362.38 191.04h1.24v1.24h-1.24zM362.76 185.75h1.24v1.24h-1.24zM363.64 181.97h1.24v1.24h-1.24zM364.64 181.34h1.24v1.24h-1.24zM365.27 185.75h1.24v1.24h-1.24zM365.9 189.28h1.24v1.24h-1.24zM366.91 185.5h1.24v1.24h-1.24zM367.79 182.6h1.24v1.24h-1.24zM368.67 183.86h1.24v1.24h-1.24zM369.05 187.01h1.24v1.24h-1.24zM369.68 190.54h1.24v1.24h-1.24zM370.31 193.31h1.24v1.24h-1.24zM370.94 195.2h1.24v1.24h-1.24zM371.57 189.53h1.24v1.24h-1.24zM372.45 188.27h1.24v1.24h-1.24zM372.83 182.6h1.24v1.24h-1.24zM373.46 177.19h1.24v1.24h-1.24zM374.09 180.72h1.24v1.24h-1.24zM374.72 183.86h1.24v1.24h-1.24zM375.35 185.5h1.24v1.24h-1.24zM376.23 192.68h1.24v1.24h-1.24zM376.99 196.46h1.24v1.24h-1.24zM377.49 198.98h1.24v1.24h-1.24zM378.25 195.2h1.24v1.24h-1.24zM378.75 189.53h1.24v1.24h-1.24zM379.51 187.64h1.24v1.24h-1.24zM380.39 183.86h1.24v1.24h-1.24zM380.77 191.04h1.24v1.24h-1.24zM381.65 194.57h1.24v1.24h-1.24zM382.53 193.06h1.24v1.24h-1.24zM380.01 183.46h1.24v1.24h-1.24zM380.64 187.24h1.24v1.24h-1.24zM381.27 191.02h1.24v1.24h-1.24zM383.16 178.42h1.24v1.24h-1.24zM383.79 168.98h1.24v1.24h-1.24zM384.42 165.83h1.24v1.24h-1.24zM385.05 162.68h1.24v1.24h-1.24zM386.31 172.13h1.24v1.24h-1.24zM386.94 179.05h1.24v1.24h-1.24zM387.57 177.16h1.24v1.24h-1.24zM388.83 174.64h1.24v1.24h-1.24zM390.09 173.39h1.24v1.24h-1.24zM391.34 171.5h1.24v1.24h-1.24zM391.97 169.61h1.24v1.24h-1.24zM392.6 168.98h1.24v1.24h-1.24zM393.23 166.46h1.24v1.24h-1.24zM394.49 163.94h1.24v1.24h-1.24zM395.12 162.05h1.24v1.24h-1.24zM396.38 161.42h1.24v1.24h-1.24zM397.01 165.2h1.24v1.24h-1.24zM398.27 163.94h1.24v1.24h-1.24zM398.52 158.02h1.24v1.24h-1.24zM398.9 169.61h1.24v1.24h-1.24zM400.16 170.87h1.24v1.24h-1.24zM401.42 172.76h1.24v1.24h-1.24zM402.68 175.27h1.24v1.24h-1.24zM403.94 176.53h1.24v1.24h-1.24zM404.57 179.68h1.24v1.24h-1.24zM405.2 173.39h1.24v1.24h-1.24zM406.46 172.76h1.24v1.24h-1.24zM407.72 174.01h1.24v1.24h-1.24zM408.98 175.9h1.24v1.24h-1.24zM409.61 177.79h1.24v1.24h-1.24zM410.24 174.01h1.24v1.24h-1.24zM412.13 167.09h1.24v1.24h-1.24zM412.76 168.98h1.24v1.24h-1.24zM413.39 170.24h1.24v1.24h-1.24zM414.64 167.72h1.24v1.24h-1.24zM415.9 165.2h1.24v1.24h-1.24zM416.53 163.31h1.24v1.24h-1.24zM417.16 160.79h1.24v1.24h-1.24zM417.79 158.27h1.24v1.24h-1.24zM418.42 159.53h1.24v1.24h-1.24zM419.43 162.68h1.24v1.24h-1.24zM419.93 165.2h1.24v1.24h-1.24zM420.94 166.46h1.24v1.24h-1.24zM422.2 168.35h1.24v1.24h-1.24zM423.21 169.35h1.24v1.24h-1.24zM423.71 173.13h1.24v1.24h-1.24zM424.09 175.9h1.24v1.24h-1.24zM424.47 178.42h1.24v1.24h-1.24zM425.35 180.94h1.24v1.24h-1.24zM426.23 182.83h1.24v1.24h-1.24zM426.99 179.68h1.24v1.24h-1.24zM428.25 180.31h1.24v1.24h-1.24zM429.13 177.16h1.24v1.24h-1.24zM429.76 173.39h1.24v1.24h-1.24zM430.39 171.5h1.24v1.24h-1.24zM431.27 177.16h1.24v1.24h-1.24zM432.28 172.13h1.24v1.24h-1.24zM433.28 168.98h1.24v1.24h-1.24zM434.17 167.09h1.24v1.24h-1.24zM434.8 164.57h1.24v1.24h-1.24zM435.8 165.83h1.24v1.24h-1.24zM436.68 170.87h1.24v1.24h-1.24zM437.31 168.98h1.24v1.24h-1.24zM438.32 167.72h1.24v1.24h-1.24zM438.83 165.2h1.24v1.24h-1.24zM439.83 161.42h1.24v1.24h-1.24zM440.84 162.68h1.24v1.24h-1.24zM441.72 166.46h1.24v1.24h-1.24zM442.98 167.72h1.24v1.24h-1.24zM443.86 165.83h1.24v1.24h-1.24zM444.62 162.68h1.24v1.24h-1.24zM445.5 163.94h1.24v1.24h-1.24zM446.76 165.83h1.24v1.24h-1.24zM448.02 169.61h1.24v1.24h-1.24zM448.65 165.2h1.24v1.24h-1.24zM448.9 161.8h1.24v1.24h-1.24zM449.91 157.64h1.24v1.24h-1.24zM450.92 158.27h1.24v1.24h-1.24zM451.8 162.68h1.24v1.24h-1.24zM452.68 163.94h1.24v1.24h-1.24zM453.44 158.9h1.24v1.24h-1.24zM454.32 157.01h1.24v1.24h-1.24zM455.2 159.53h1.24v1.24h-1.24zM455.95 155.75h1.24v1.24h-1.24zM456.84 157.01h1.24v1.24h-1.24zM458.1 161.42h1.24v1.24h-1.24zM458.47 165.2h1.24v1.24h-1.24zM458.98 167.72h1.24v1.24h-1.24zM459.98 170.87h1.24v1.24h-1.24zM460.99 169.61h1.24v1.24h-1.24zM461.87 168.98h1.24v1.24h-1.24zM462.5 168.1h1.24v1.24h-1.24zM463.13 176.53h1.24v1.24h-1.24zM463.76 177.16h1.24v1.24h-1.24zM464.39 180.31h1.24v1.24h-1.24zM465.02 184.72h1.24v1.24h-1.24zM465.65 185.98h1.24v1.24h-1.24zM466.53 186.61h1.24v1.24h-1.24zM467.29 191.65h1.24v1.24h-1.24zM481.57 191.02h1.24v1.24h-1.24zM482.2 174.64h1.24v1.24h-1.24zM482.83 185.35h1.24v1.24h-1.24zM483.46 182.83h1.24v1.24h-1.24zM484.47 181.57h1.24v1.24h-1.24zM485.35 182.2h1.24v1.24h-1.24zM486.23 180.94h1.24v1.24h-1.24zM486.99 178.42h1.24v1.24h-1.24zM487.87 173.39h1.24v1.24h-1.24zM488.5 168.98h1.24v1.24h-1.24zM489.13 172.76h1.24v1.24h-1.24zM490.01 171.5h1.24v1.24h-1.24zM491.02 170.24h1.24v1.24h-1.24zM492.02 167.72h1.24v1.24h-1.24zM492.53 163.94h1.24v1.24h-1.24zM493.79 162.05h1.24v1.24h-1.24zM494.8 158.9h1.24v1.24h-1.24zM495.8 157.01h1.24v1.24h-1.24zM496.68 155.12h1.24v1.24h-1.24zM497.57 153.86h1.24v1.24h-1.24zM498.57 155.75h1.24v1.24h-1.24zM499.2 152.6h1.24v1.24h-1.24zM500.46 151.34h1.24v1.24h-1.24zM500.84 157.01h1.24v1.24h-1.24zM502.35 157.64h1.24v1.24h-1.24zM501.34 162.68h1.24v1.24h-1.24zM502.35 162.05h1.24v1.24h-1.24zM502.98 164.57h1.24v1.24h-1.24zM504.24 165.2h1.24v1.24h-1.24zM503.86 168.35h1.24v1.24h-1.24zM504.62 170.87h1.24v1.24h-1.24zM505.5 171.5h1.24v1.24h-1.24zM506.13 175.9h1.24v1.24h-1.24zM506.76 177.16h1.24v1.24h-1.24zM507.39 180.31h1.24v1.24h-1.24zM508.4 182.83h1.24v1.24h-1.24zM509.28 184.72h1.24v1.24h-1.24zM509.91 185.98h1.24v1.24h-1.24zM511.17 186.61h1.24v1.24h-1.24zM464.57 185.19h1.24v1.24h-1.24zM465.58 185.94h1.24v1.24h-1.24zM466.46 186.2h1.24v1.24h-1.24zM467.09 191.86h1.24v1.24h-1.24zM468.1 196.9h1.24v1.24h-1.24zM468.6 201.94h1.24v1.24h-1.24zM469.35 205.09h1.24v1.24h-1.24zM470.24 203.2h1.24v1.24h-1.24zM469.86 209.5h1.24v1.24h-1.24zM471.5 196.27h1.24v1.24h-1.24zM471.87 200.68h1.24v1.24h-1.24zM472.76 193.75h1.24v1.24h-1.24zM473.13 196.9h1.24v1.24h-1.24zM474.01 201.31h1.24v1.24h-1.24zM474.9 205.72h1.24v1.24h-1.24zM475.65 201.94h1.24v1.24h-1.24zM476.16 203.83h1.24v1.24h-1.24zM476.91 209.5h1.24v1.24h-1.24zM477.42 206.98h1.24v1.24h-1.24zM477.42 212.39h1.24v1.24h-1.24zM478.67 204.46h1.24v1.24h-1.24zM479.68 201.31h1.24v1.24h-1.24zM480.31 197.53h1.24v1.24h-1.24zM480.94 195.01h1.24v1.24h-1.24zM481.57 190.98h1.24v1.24h-1.24zM482.45 185.57h1.24v1.24h-1.24zM483.46 184.31h1.24v1.24h-1.24zM484.09 182.42h1.24v1.24h-1.24zM485.35 181.79h1.24v1.24h-1.24zM486.23 180.91h1.24v1.24h-1.24zM486.99 178.64h1.24v1.24h-1.24zM508.02 182.42h1.24v1.24h-1.24zM509.28 185.19h1.24v1.24h-1.24zM510.54 186.2h1.24v1.24h-1.24zM511.42 186.45h1.24v1.24h-1.24zM511.8 197.53h1.24v1.24h-1.24zM511.8 201.94h1.24v1.24h-1.24zM512.18 206.98h1.24v1.24h-1.24zM285.68 173.42h1.24v1.24h-1.24zM286.94 173.35h1.24v1.24h-1.24zM288.2 172.91h1.24v1.24h-1.24zM289.46 172.84h1.24v1.24h-1.24zM292.6 172.04h1.24v1.24h-1.24zM293.86 172.48h1.24v1.24h-1.24zM295.44 173.69h1.24v1.24h-1.24zM297.33 170.95h1.24v1.24h-1.24zM300.79 164.41h1.24v1.24h-1.24zM301.86 163.18h1.24v1.24h-1.24zM304.57 153.59h1.24v1.24h-1.24zM308.54 143.95h1.24v1.24h-1.24zM309.61 143.24h1.24v1.24h-1.24zM310.87 142.13h1.24v1.24h-1.24zM312.76 145.13h1.24v1.24h-1.24zM317.79 156.81h1.24v1.24h-1.24zM321.57 162.09h1.24v1.24h-1.24zM322.83 162.21h1.24v1.24h-1.24zM331.65 165.48h1.24v1.24h-1.24zM332.91 166.61h1.24v1.24h-1.24zM336.06 164.37h1.24v1.24h-1.24zM338.57 166.5h1.24v1.24h-1.24zM341.09 160.51h1.24v1.24h-1.24zM343.61 162.91h1.24v1.24h-1.24zM346.13 165.55h1.24v1.24h-1.24zM349.85 180.98h1.24v1.24h-1.24zM352.99 178.15h1.24v1.24h-1.24zM355.83 194.52h1.24v1.24h-1.24zM356.9 196.19h1.24v1.24h-1.24zM359.29 205.15h1.24v1.24h-1.24zM364.14 182.02h1.24v1.24h-1.24zM368.23 182.87h1.24v1.24h-1.24zM372.01 188.54h1.24v1.24h-1.24zM382.09 194.17h1.24v1.24h-1.24zM389.46 174.25h1.24v1.24h-1.24zM392.29 169.65h1.24v1.24h-1.24zM395.75 161.62h1.24v1.24h-1.24zM397.64 164.33h1.24v1.24h-1.24zM399.53 170.24h1.24v1.24h-1.24zM403.31 175.66h1.24v1.24h-1.24zM405.83 173.43h1.24v1.24h-1.24zM407.09 173.39h1.24v1.24h-1.24zM413.07 169.73h1.24v1.24h-1.24zM418.11 158.54h1.24v1.24h-1.24zM420.44 165.83h1.24v1.24h-1.24zM422.7 168.73h1.24v1.24h-1.24zM427.62 180.36h1.24v1.24h-1.24zM435.3 165.44h1.24v1.24h-1.24zM437.82 168.23h1.24v1.24h-1.24zM440.34 162.05h1.24v1.24h-1.24zM442.35 167.45h1.24v1.24h-1.24zM445.06 163.07h1.24v1.24h-1.24zM450.41 158.08h1.24v1.24h-1.24zM452.24 162.95h1.24v1.24h-1.24zM456.4 156.02h1.24v1.24h-1.24zM460.49 170.48h1.24v1.24h-1.24zM461.43 169.53h1.24v1.24h-1.24zM462.19 168.3h1.24v1.24h-1.24zM463.45 176.49h1.24v1.24h-1.24zM465.34 185.35h1.24v1.24h-1.24zM466.09 186.05h1.24v1.24h-1.24zM483.96 182.2h1.24v1.24h-1.24zM484.91 181.77h1.24v1.24h-1.24zM485.79 181.33h1.24v1.24h-1.24zM489.57 172.01h1.24v1.24h-1.24zM490.51 170.99h1.24v1.24h-1.24zM497.13 154.13h1.24v1.24h-1.24zM499.83 152.09h1.24v1.24h-1.24zM501.34 157.34h1.24v1.24h-1.24zM501.85 157.43h1.24v1.24h-1.24zM501.85 162.72h1.24v1.24h-1.24zM503.61 164.64h1.24v1.24h-1.24zM505.06 171.42h1.24v1.24h-1.24zM506.45 176.29h1.24v1.24h-1.24zM509.59 185.35h1.24v1.24h-1.24zM510.54 186.05h1.24v1.24h-1.24zM465.07 185.33h1.24v1.24h-1.24zM466.02 185.95h1.24v1.24h-1.24zM482.96 185.06h1.24v1.24h-1.24zM484.72 181.98h1.24v1.24h-1.24zM485.79 181.71h1.24v1.24h-1.24zM509.91 185.69h1.24v1.24h-1.24zM510.98 186.2h1.24v1.24h-1.24zM284.64 170.43h1.24v1.24h-1.24zM285.87 173.89h1.24v1.24h-1.24zM288.83 171.06h1.24v1.24h-1.24zM290.9 177.59h1.24v1.24h-1.24zM293.23 171.69h1.24v1.24h-1.24zM295.56 176.33h1.24v1.24h-1.24zM296.57 169.25h1.24v1.24h-1.24zM298.71 168.94h1.24v1.24h-1.24zM299.72 165.71h1.24v1.24h-1.24zM302.52 162h1.24v1.24h-1.24zM304.16 152.8h1.24v1.24h-1.24zM305.83 159.33h1.24v1.24h-1.24zM307.09 147.52h1.24v1.24h-1.24zM309.2 143.75h1.24v1.24h-1.24zM311.06 143.59h1.24v1.24h-1.24zM313.83 143.99h1.24v1.24h-1.24zM315.27 151.21h1.24v1.24h-1.24zM316.75 159.65h1.24v1.24h-1.24zM318.86 157.6h1.24v1.24h-1.24zM321.16 162.01h1.24v1.24h-1.24zM323.24 161.46h1.24v1.24h-1.24zM325.57 164.37h1.24v1.24h-1.24zM327.46 161.7h1.24v1.24h-1.24zM329.32 159.81h1.24v1.24h-1.24zM332.5 167.52h1.24v1.24h-1.24zM334.76 168.54h1.24v1.24h-1.24zM336.24 165.08h1.24v1.24h-1.24zM338.76 165.87h1.24v1.24h-1.24zM341.94 160.2h1.24v1.24h-1.24zM343.8 165h1.24v1.24h-1.24zM346.54 167.52h1.24v1.24h-1.24zM348.71 170.25h1.24v1.24h-1.24zM349.09 180.17h1.24v1.24h-1.24zM350.98 181.74h1.24v1.24h-1.24zM352.24 177.73h1.24v1.24h-1.24zM353.94 186.4h1.24v1.24h-1.24zM354.98 195.12h1.24v1.24h-1.24zM357.34 197.56h1.24v1.24h-1.24zM359.42 207h1.24v1.24h-1.24zM360.24 204.88h1.24v1.24h-1.24zM362.31 193.39h1.24v1.24h-1.24zM362.76 186.85h1.24v1.24h-1.24zM364.64 181.34h1.24v1.24h-1.24zM366.34 188.18h1.24v1.24h-1.24zM367.35 184.25h1.24v1.24h-1.24zM369.05 188.66h1.24v1.24h-1.24zM370.09 194.96h1.24v1.24h-1.24zM371.79 191.18h1.24v1.24h-1.24zM372.83 182.6h1.24v1.24h-1.24zM374.09 180.72h1.24v1.24h-1.24zM374.91 186.6h1.24v1.24h-1.24zM377.21 196.46h1.24v1.24h-1.24zM378.47 196.3h1.24v1.24h-1.24zM379.51 185.99h1.24v1.24h-1.24zM380.55 191.59h1.24v1.24h-1.24zM382.97 191.96h1.24v1.24h-1.24zM380.2 187.79h1.24v1.24h-1.24zM383.38 176.77h1.24v1.24h-1.24zM384.2 167.48h1.24v1.24h-1.24zM386.53 173.23h1.24v1.24h-1.24zM387.35 176.06h1.24v1.24h-1.24zM389.65 172.29h1.24v1.24h-1.24zM391.75 168.51h1.24v1.24h-1.24zM393.67 166.46h1.24v1.24h-1.24zM395.56 160.95h1.24v1.24h-1.24zM397.23 165.75h1.24v1.24h-1.24zM398.3 158.02h1.24v1.24h-1.24zM399.94 169.77h1.24v1.24h-1.24zM402.24 174.17h1.24v1.24h-1.24zM404.13 178.58h1.24v1.24h-1.24zM406.46 173.31h1.24v1.24h-1.24zM409.42 177.55h1.24v1.24h-1.24zM410.68 175.66h1.24v1.24h-1.24zM412.76 168.43h1.24v1.24h-1.24zM414.2 168.27h1.24v1.24h-1.24zM416.09 162.76h1.24v1.24h-1.24zM417.79 159.37h1.24v1.24h-1.24zM419.65 162.13h1.24v1.24h-1.24zM421.16 166.46h1.24v1.24h-1.24zM423.21 168.8h1.24v1.24h-1.24zM423.65 177.55h1.24v1.24h-1.24zM425.35 179.84h1.24v1.24h-1.24zM427.21 178.03h1.24v1.24h-1.24zM429.35 175.51h1.24v1.24h-1.24zM430.83 170.4h1.24v1.24h-1.24zM431.84 172.13h1.24v1.24h-1.24zM434.61 168.19h1.24v1.24h-1.24zM435.36 166.93h1.24v1.24h-1.24zM437.53 168.98h1.24v1.24h-1.24zM439.27 166.85h1.24v1.24h-1.24zM441.06 163.78h1.24v1.24h-1.24zM442.98 167.72h1.24v1.24h-1.24zM444.84 162.68h1.24v1.24h-1.24zM446.32 165.28h1.24v1.24h-1.24zM448.21 166.85h1.24v1.24h-1.24zM450.13 155.99h1.24v1.24h-1.24zM452.24 162.13h1.24v1.24h-1.24zM453.22 157.25h1.24v1.24h-1.24zM454.76 157.88h1.24v1.24h-1.24zM457.28 155.91h1.24v1.24h-1.24zM458.03 166.3h1.24v1.24h-1.24zM459.98 171.97h1.24v1.24h-1.24zM461.43 170.08h1.24v1.24h-1.24zM462.69 175.98h1.24v1.24h-1.24zM464.17 178.66h1.24v1.24h-1.24zM466.09 186.53h1.24v1.24h-1.24zM467.29 193.3h1.24v1.24h-1.24zM482.64 173.54h1.24v1.24h-1.24zM483.9 181.18h1.24v1.24h-1.24zM485.79 182.75h1.24v1.24h-1.24zM486.77 177.87h1.24v1.24h-1.24zM488.28 167.33h1.24v1.24h-1.24zM490.45 171.5h1.24v1.24h-1.24zM491.8 168.82h1.24v1.24h-1.24zM494.23 162.6h1.24v1.24h-1.24zM495.36 156.46h1.24v1.24h-1.24zM497.13 153.86h1.24v1.24h-1.24zM498.76 152.05h1.24v1.24h-1.24zM500.84 158.66h1.24v1.24h-1.24zM500.9 162.68h1.24v1.24h-1.24zM503.42 165.67h1.24v1.24h-1.24zM503.42 166.7h1.24v1.24h-1.24zM505.06 169.85h1.24v1.24h-1.24zM506.98 177.71h1.24v1.24h-1.24zM508.18 184.48h1.24v1.24h-1.24zM509.47 187.08h1.24v1.24h-1.24zM464.79 185.74h1.24v1.24h-1.24zM466.24 184.55h1.24v1.24h-1.24zM468.54 197.45h1.24v1.24h-1.24zM468.91 205.64h1.24v1.24h-1.24zM469.86 209.5h1.24v1.24h-1.24zM472.31 199.58h1.24v1.24h-1.24zM472.91 196.35h1.24v1.24h-1.24zM474.46 205.17h1.24v1.24h-1.24zM476.6 202.73h1.24v1.24h-1.24zM476.98 208.08h1.24v1.24h-1.24zM478.89 203.91h1.24v1.24h-1.24zM480.31 197.53h1.24v1.24h-1.24zM481.79 189.88h1.24v1.24h-1.24zM483.02 185.96h1.24v1.24h-1.24zM485.35 181.79h1.24v1.24h-1.24zM486.55 178.64h1.24v1.24h-1.24zM509.5 184.64h1.24v1.24h-1.24zM511.64 185.35h1.24v1.24h-1.24zM511.58 201.39h1.24v1.24h-1.24zM285.68 171.77h1.24v1.24h-1.24zM288.2 173.46h1.24v1.24h-1.24zM292.38 173.69h1.24v1.24h-1.24zM295.88 175.34h1.24v1.24h-1.24zM300.35 164.96h1.24v1.24h-1.24zM304.35 151.94h1.24v1.24h-1.24zM309.61 143.79h1.24v1.24h-1.24zM312.54 144.58h1.24v1.24h-1.24zM321.57 163.74h1.24v1.24h-1.24zM331.87 166.58h1.24v1.24h-1.24zM336.28 166.02h1.24v1.24h-1.24zM340.65 161.61h1.24v1.24h-1.24zM346.13 166.65h1.24v1.24h-1.24zM352.55 177.6h1.24v1.24h-1.24zM357.34 197.84h1.24v1.24h-1.24zM364.14 180.37h1.24v1.24h-1.24zM371.57 187.44h1.24v1.24h-1.24zM389.24 174.8h1.24v1.24h-1.24zM395.31 159.97h1.24v1.24h-1.24zM399.53 171.89h1.24v1.24h-1.24zM405.39 171.78h1.24v1.24h-1.24zM412.85 168.63h1.24v1.24h-1.24zM420 165.83h1.24v1.24h-1.24zM427.84 179.81h1.24v1.24h-1.24zM437.82 169.88h1.24v1.24h-1.24zM442.79 166.9h1.24v1.24h-1.24zM450.41 156.43h1.24v1.24h-1.24zM456.84 154.37h1.24v1.24h-1.24zM461.21 168.98h1.24v1.24h-1.24zM463.23 177.59h1.24v1.24h-1.24zM466.53 185.5h1.24v1.24h-1.24zM485.13 182.87h1.24v1.24h-1.24zM490.01 170.36h1.24v1.24h-1.24zM496.91 155.78h1.24v1.24h-1.24zM501.78 158.44h1.24v1.24h-1.24zM501.85 161.62h1.24v1.24h-1.24zM504.62 170.87h1.24v1.24h-1.24zM509.59 187h1.24v1.24h-1.24zM465.07 185.33h1.24v1.24h-1.24zM482.74 185.06h1.24v1.24h-1.24zM486.23 180.06h1.24v1.24h-1.24zM510.54 186.2h1.24v1.24h-1.24z" fill="#f410f4"/>
</g>
<g id="chart-text" filter="url(#soft2)" fill="#111">
<text x="232.5" y="25.8" font-size="14.5" textLength="12.2" lengthAdjust="spacingAndGlyphs" fill="#111">a)</text>
<text x="230.6" y="258.9" font-size="15.5" textLength="14" lengthAdjust="spacingAndGlyphs" fill="#111">b)</text>
<text x="291" y="27.9" font-size="8.4" font-weight="bold" font-style="italic" textLength="47.2" lengthAdjust="spacingAndGlyphs">March 2014</text>
<text x="279.8" y="19.9" font-size="7.5" font-weight="bold" text-anchor="end">2040</text>
<text x="279.8" y="40.1" font-size="7.5" font-weight="bold" text-anchor="end">2000</text>
<text x="279.8" y="60.3" font-size="7.5" font-weight="bold" text-anchor="end">1960</text>
<text x="279.8" y="80.5" font-size="7.5" font-weight="bold" text-anchor="end">1920</text>
<text x="279.8" y="100.7" font-size="7.5" font-weight="bold" text-anchor="end">1880</text>
<text x="279.8" y="120.9" font-size="7.5" font-weight="bold" text-anchor="end">1840</text>
<text x="279.8" y="138.8" font-size="7.5" font-weight="bold" text-anchor="end">-46</text>
<text x="279.8" y="169.1" font-size="7.5" font-weight="bold" text-anchor="end">-48</text>
<text x="279.8" y="199.4" font-size="7.5" font-weight="bold" text-anchor="end">-50</text>
<text x="279.8" y="229.7" font-size="7.5" font-weight="bold" text-anchor="end">-52</text>
<text x="305.6" y="237.6" font-size="7.5" font-weight="bold" text-anchor="middle">12</text>
<text x="360.25" y="237.6" font-size="7.5" font-weight="bold" text-anchor="middle">17</text>
<text x="414.9" y="237.6" font-size="7.5" font-weight="bold" text-anchor="middle">22</text>
<text x="469.55" y="237.6" font-size="7.5" font-weight="bold" text-anchor="middle">27</text>
<text x="392.5" y="242.3" font-size="9.5" font-weight="bold" text-anchor="middle" textLength="17.5" lengthAdjust="spacingAndGlyphs">Day</text>
<text transform="translate(256 64.6) rotate(-90)" font-size="8.6" font-weight="bold" text-anchor="middle">CH<tspan font-size="5.6" dy="1.6">4</tspan><tspan dy="-1.6"> (ppm)</tspan></text>
<text transform="translate(261.9 198.4) rotate(-90)" font-size="8.3" font-weight="bold" textLength="48.6" lengthAdjust="spacingAndGlyphs"><tspan font-size="7.6" font-weight="normal">δ</tspan>C-CH<tspan font-size="5.2" dy="1.5">4</tspan><tspan dy="-1.5">(‰)</tspan></text>
</g>
<g id="arrows" fill="#7f7f7f" filter="url(#soft2)">
<path d="M305.4 242.6H313V251H317.4L309.2 259.2 301 251H305.4Z"/>
<path d="M370 238.5L395.5 258.5 398.5 254.5 401 265.5 388.5 267.5 391.5 264 365 245Z"/>
</g>
<g id="map1">
<clipPath id="clip1"><rect x="224" y="274.8" width="146.6" height="123.2"/></clipPath>
<g clip-path="url(#clip1)">
<g filter="url(#soft)">
<path fill="#fe8e38" d="M223.8 274.6H233V277.44H223.8ZM244.32 274.6H253.52V277.44H244.32ZM270.71 277.04H274.04V279.88H270.71ZM279.51 279.48H282.84V282.32H279.51ZM282.44 281.92H285.77V284.76H282.44ZM264.85 284.36H268.18V287.2H264.85ZM285.37 284.36H288.7V287.2H285.37ZM288.3 286.8H291.64V289.64H288.3ZM291.24 289.24H294.57V292.08H291.24ZM294.17 291.68H297.5V294.52H294.17ZM238.46 299H241.79V301.84H238.46ZM294.17 299H297.5V301.84H294.17ZM294.17 301.44H297.5V304.28H294.17ZM291.24 303.88H294.57V306.72H291.24ZM297.1 303.88H300.43V306.72H297.1ZM288.3 306.32H291.64V309.16H288.3ZM297.1 306.32H300.43V309.16H297.1ZM291.24 308.76H294.57V311.6H291.24ZM291.24 311.2H294.57V314.04H291.24ZM297.1 311.2H300.43V314.04H297.1ZM291.24 313.64H294.57V316.48H291.24ZM297.1 313.64H300.43V316.48H297.1ZM229.66 316.08H253.52V318.92H229.66ZM291.24 316.08H294.57V318.92H291.24ZM297.1 316.08H300.43V318.92H297.1ZM223.8 318.52H230.06V321.36H223.8ZM238.46 318.52H247.66V321.36H238.46ZM253.12 318.52H274.04V321.36H253.12ZM294.17 318.52H300.43V321.36H294.17ZM226.73 320.96H233V323.8H226.73ZM273.64 320.96H276.98V323.8H273.64ZM294.17 320.96H300.43V323.8H294.17ZM226.73 323.4H233V326.24H226.73ZM273.64 323.4H276.98V326.24H273.64ZM294.17 323.4H300.43V326.24H294.17ZM305.9 323.4H312.16V326.24H305.9ZM273.64 325.84H279.91V328.68H273.64ZM294.17 325.84H297.5V328.68H294.17ZM305.9 325.84H312.16V328.68H305.9ZM276.58 328.28H282.84V331.12H276.58ZM297.1 328.28H300.43V331.12H297.1ZM329.35 328.28H335.62V331.12H329.35ZM267.78 330.72H271.11V333.56H267.78ZM282.44 330.72H285.77V333.56H282.44ZM329.35 330.72H335.62V333.56H329.35ZM282.44 333.16H288.7V336H282.44ZM238.46 335.6H241.79V338.44H238.46ZM288.3 335.6H291.64V338.44H288.3ZM238.46 338.04H247.66V340.88H238.46ZM291.24 338.04H294.57V340.88H291.24ZM238.46 340.48H241.79V343.32H238.46Z"/>
<path fill="#f43a2e" d="M232.6 274.6H244.72V277.44H232.6ZM223.8 277.04H271.11V279.88H223.8ZM223.8 279.48H233V282.32H223.8ZM244.32 279.48H259.38V282.32H244.32ZM273.64 279.48H279.91V282.32H273.64ZM223.8 281.92H233V284.76H223.8ZM247.26 281.92H256.45V284.76H247.26ZM276.58 281.92H282.84V284.76H276.58ZM223.8 284.36H235.93V287.2H223.8ZM247.26 284.36H253.52V287.2H247.26ZM282.44 284.36H285.77V287.2H282.44ZM223.8 286.8H235.93V289.64H223.8ZM241.39 286.8H253.52V289.64H241.39ZM264.85 286.8H271.11V289.64H264.85ZM282.44 286.8H288.7V289.64H282.44ZM229.66 289.24H253.52V292.08H229.66ZM258.98 289.24H262.32V292.08H258.98ZM264.85 289.24H271.11V292.08H264.85ZM285.37 289.24H291.64V292.08H285.37ZM223.8 291.68H235.93V294.52H223.8ZM244.32 291.68H271.11V294.52H244.32ZM285.37 291.68H294.57V294.52H285.37ZM223.8 294.12H227.13V296.96H223.8ZM244.32 294.12H271.11V296.96H244.32ZM282.44 294.12H297.5V296.96H282.44ZM223.8 296.56H233V299.4H223.8ZM244.32 296.56H247.66V299.4H244.32ZM261.92 296.56H297.5V299.4H261.92ZM223.8 299H233V301.84H223.8ZM261.92 299H294.57V301.84H261.92ZM223.8 301.44H227.13V304.28H223.8ZM261.92 301.44H294.57V304.28H261.92ZM223.8 303.88H227.13V306.72H223.8ZM273.64 303.88H291.64V306.72H273.64ZM223.8 306.32H238.86V309.16H223.8ZM273.64 306.32H288.7V309.16H273.64ZM223.8 308.76H233V311.6H223.8ZM247.26 308.76H256.45V311.6H247.26ZM285.37 308.76H291.64V311.6H285.37ZM223.8 311.2H233V314.04H223.8ZM241.39 311.2H256.45V314.04H241.39ZM285.37 311.2H291.64V314.04H285.37ZM223.8 313.64H265.25V316.48H223.8ZM279.51 313.64H291.64V316.48H279.51ZM223.8 316.08H230.06V318.92H223.8ZM253.12 316.08H291.64V318.92H253.12ZM273.64 318.52H294.57V321.36H273.64ZM276.58 320.96H279.91V323.8H276.58ZM291.24 320.96H294.57V323.8H291.24ZM276.58 323.4H279.91V326.24H276.58ZM291.24 323.4H294.57V326.24H291.24ZM279.51 325.84H285.77V328.68H279.51ZM291.24 325.84H294.57V328.68H291.24ZM282.44 328.28H285.77V331.12H282.44ZM294.17 328.28H297.5V331.12H294.17ZM285.37 330.72H288.7V333.56H285.37ZM297.1 330.72H300.43V333.56H297.1ZM288.3 333.16H291.64V336H288.3ZM291.24 335.6H294.57V338.44H291.24Z"/>
<path fill="#feb540" d="M253.12 274.6H271.11V277.44H253.12ZM311.76 274.6H315.09V277.44H311.76ZM326.42 274.6H332.68V277.44H326.42ZM352.81 274.6H370.8V277.44H352.81ZM352.81 277.04H370.8V279.88H352.81ZM352.81 279.48H370.8V282.32H352.81ZM285.37 281.92H288.7V284.76H285.37ZM320.56 281.92H323.89V284.76H320.56ZM288.3 284.36H291.64V287.2H288.3ZM317.62 284.36H323.89V287.2H317.62ZM291.24 286.8H294.57V289.64H291.24ZM294.17 289.24H297.5V292.08H294.17ZM308.83 289.24H318.02V292.08H308.83ZM297.1 294.12H300.43V296.96H297.1ZM297.1 296.56H300.43V299.4H297.1ZM297.1 301.44H300.43V304.28H297.1ZM294.17 303.88H297.5V306.72H294.17ZM291.24 306.32H294.57V309.16H291.24ZM294.17 308.76H300.43V311.6H294.17ZM294.17 311.2H297.5V314.04H294.17ZM300.03 311.2H303.36V314.04H300.03ZM294.17 313.64H297.5V316.48H294.17ZM300.03 313.64H303.36V316.48H300.03ZM294.17 316.08H297.5V318.92H294.17ZM229.66 318.52H238.86V321.36H229.66ZM247.26 318.52H253.52V321.36H247.26ZM300.03 318.52H309.23V321.36H300.03ZM320.56 318.52H344.41V321.36H320.56ZM232.6 320.96H241.79V323.8H232.6ZM253.12 320.96H262.32V323.8H253.12ZM267.78 320.96H274.04V323.8H267.78ZM300.03 320.96H309.23V323.8H300.03ZM320.56 320.96H344.41V323.8H320.56ZM232.6 323.4H235.93V326.24H232.6ZM261.92 323.4H274.04V326.24H261.92ZM300.03 323.4H306.3V326.24H300.03ZM323.49 323.4H329.75V326.24H323.49ZM235.53 325.84H238.86V328.68H235.53ZM267.78 325.84H274.04V328.68H267.78ZM297.1 325.84H306.3V328.68H297.1ZM235.53 328.28H241.79V331.12H235.53ZM261.92 328.28H276.98V331.12H261.92ZM323.49 328.28H329.75V331.12H323.49ZM235.53 330.72H244.72V333.56H235.53ZM261.92 330.72H268.18V333.56H261.92ZM270.71 330.72H282.84V333.56H270.71ZM323.49 330.72H329.75V333.56H323.49ZM238.46 333.16H247.66V336H238.46ZM261.92 333.16H282.84V336H261.92ZM226.73 335.6H233V338.44H226.73ZM241.39 335.6H247.66V338.44H241.39ZM264.85 335.6H279.91V338.44H264.85ZM282.44 335.6H288.7V338.44H282.44ZM270.71 338.04H279.91V340.88H270.71ZM282.44 338.04H285.77V340.88H282.44ZM352.81 338.04H359.07V340.88H352.81ZM241.39 340.48H247.66V343.32H241.39ZM352.81 340.48H359.07V343.32H352.81ZM238.46 342.92H241.79V345.76H238.46ZM332.28 342.92H338.55V345.76H332.28ZM332.28 345.36H338.55V348.2H332.28ZM358.67 345.36H364.94V348.2H358.67ZM332.28 347.8H338.55V350.64H332.28ZM358.67 347.8H364.94V350.64H358.67Z"/>
<path fill="#fde04a" d="M270.71 274.6H274.04V277.44H270.71ZM300.03 274.6H312.16V277.44H300.03ZM314.69 274.6H320.96V277.44H314.69ZM332.28 274.6H341.48V277.44H332.28ZM273.64 277.04H276.98V279.88H273.64ZM308.83 277.04H320.96V279.88H308.83ZM282.44 279.48H285.77V282.32H282.44ZM326.42 279.48H353.21V282.32H326.42ZM288.3 281.92H291.64V284.76H288.3ZM323.49 281.92H341.48V284.76H323.49ZM344.01 281.92H353.21V284.76H344.01ZM291.24 284.36H294.57V287.2H291.24ZM329.35 284.36H341.48V287.2H329.35ZM294.17 286.8H297.5V289.64H294.17ZM297.1 291.68H300.43V294.52H297.1ZM308.83 291.68H318.02V294.52H308.83ZM326.42 291.68H329.75V294.52H326.42ZM300.03 294.12H303.36V296.96H300.03ZM294.17 306.32H297.5V309.16H294.17ZM308.83 318.52H320.96V321.36H308.83ZM223.8 320.96H227.13V323.8H223.8ZM241.39 320.96H250.59V323.8H241.39ZM261.92 320.96H268.18V323.8H261.92ZM308.83 320.96H320.96V323.8H308.83ZM223.8 323.4H227.13V326.24H223.8ZM235.53 323.4H250.59V326.24H235.53ZM253.12 323.4H262.32V326.24H253.12ZM311.76 323.4H323.89V326.24H311.76ZM238.46 325.84H241.79V328.68H238.46ZM244.32 325.84H250.59V328.68H244.32ZM311.76 325.84H326.82V328.68H311.76ZM241.39 328.28H247.66V331.12H241.39ZM314.69 328.28H318.02V331.12H314.69ZM244.32 330.72H247.66V333.56H244.32ZM300.03 330.72H303.36V333.56H300.03ZM305.9 330.72H312.16V333.56H305.9ZM235.53 333.16H238.86V336H235.53ZM346.94 333.16H370.8V336H346.94ZM235.53 335.6H238.86V338.44H235.53ZM279.51 335.6H282.84V338.44H279.51ZM344.01 335.6H370.8V338.44H344.01ZM235.53 338.04H238.86V340.88H235.53ZM247.26 338.04H250.59V340.88H247.26ZM256.05 338.04H259.38V340.88H256.05ZM264.85 338.04H271.11V340.88H264.85ZM279.51 338.04H282.84V340.88H279.51ZM285.37 338.04H291.64V340.88H285.37ZM341.08 338.04H353.21V340.88H341.08ZM235.53 340.48H238.86V343.32H235.53ZM247.26 340.48H259.38V343.32H247.26ZM270.71 340.48H285.77V343.32H270.71ZM341.08 340.48H353.21V343.32H341.08ZM361.6 340.48H367.87V343.32H361.6ZM241.39 342.92H244.72V345.76H241.39ZM253.12 342.92H259.38V345.76H253.12ZM276.58 342.92H282.84V345.76H276.58ZM346.94 342.92H359.07V345.76H346.94ZM361.6 342.92H367.87V345.76H361.6ZM238.46 345.36H244.72V348.2H238.46ZM276.58 345.36H282.84V348.2H276.58ZM352.81 345.36H359.07V348.2H352.81ZM238.46 347.8H241.79V350.64H238.46Z"/>
<path fill="#fec244" d="M326.42 277.04H329.75V279.88H326.42ZM361.6 281.92H370.8V284.76H361.6ZM355.74 284.36H367.87V287.2H355.74ZM352.81 286.8H367.87V289.64H352.81ZM341.08 289.24H344.41V292.08H341.08ZM349.88 289.24H362V292.08H349.88ZM367.47 289.24H370.8V292.08H367.47ZM329.35 291.68H335.62V294.52H329.35ZM341.08 291.68H344.41V294.52H341.08ZM358.67 291.68H370.8V294.52H358.67ZM308.83 294.12H312.16V296.96H308.83ZM335.22 294.12H341.48V296.96H335.22ZM344.01 294.12H364.94V296.96H344.01ZM302.96 296.56H306.3V299.4H302.96ZM332.28 296.56H335.62V299.4H332.28ZM344.01 296.56H370.8V299.4H344.01ZM311.76 299H315.09V301.84H311.76ZM352.81 299H359.07V301.84H352.81ZM361.6 299H364.94V301.84H361.6ZM320.56 301.44H323.89V304.28H320.56ZM335.22 301.44H341.48V304.28H335.22ZM355.74 301.44H364.94V304.28H355.74ZM305.9 303.88H309.23V306.72H305.9ZM355.74 303.88H370.8V306.72H355.74ZM364.54 306.32H367.87V309.16H364.54ZM311.76 308.76H335.62V311.6H311.76ZM349.88 308.76H353.21V311.6H349.88ZM332.28 311.2H335.62V314.04H332.28ZM344.01 311.2H350.28V314.04H344.01ZM352.81 311.2H370.8V314.04H352.81ZM335.22 313.64H338.55V316.48H335.22ZM358.67 313.64H364.94V316.48H358.67ZM352.81 316.08H356.14V318.92H352.81ZM361.6 316.08H370.8V318.92H361.6ZM346.94 318.52H350.28V321.36H346.94ZM361.6 318.52H364.94V321.36H361.6ZM367.47 318.52H370.8V321.36H367.47ZM344.01 320.96H347.34V323.8H344.01ZM352.81 320.96H362V323.8H352.81ZM367.47 320.96H370.8V323.8H367.47ZM349.88 325.84H362V328.68H349.88ZM352.81 328.28H356.14V331.12H352.81ZM361.6 328.28H370.8V331.12H361.6ZM358.67 330.72H364.94V333.56H358.67ZM335.22 333.16H338.55V336H335.22ZM344.01 333.16H347.34V336H344.01Z"/>
<path fill="#fee450" d="M329.35 277.04H341.48V279.88H329.35ZM352.81 281.92H362V284.76H352.81ZM344.01 284.36H356.14V287.2H344.01ZM367.47 284.36H370.8V287.2H367.47ZM332.28 286.8H353.21V289.64H332.28ZM367.47 286.8H370.8V289.64H367.47ZM335.22 289.24H341.48V292.08H335.22ZM344.01 289.24H350.28V292.08H344.01ZM361.6 289.24H367.87V292.08H361.6ZM335.22 291.68H341.48V294.52H335.22ZM344.01 291.68H359.07V294.52H344.01ZM311.76 294.12H335.62V296.96H311.76ZM341.08 294.12H344.41V296.96H341.08ZM364.54 294.12H370.8V296.96H364.54ZM305.9 296.56H332.68V299.4H305.9ZM335.22 296.56H344.41V299.4H335.22ZM300.03 299H312.16V301.84H300.03ZM314.69 299H320.96V301.84H314.69ZM323.49 299H353.21V301.84H323.49ZM358.67 299H362V301.84H358.67ZM364.54 299H370.8V301.84H364.54ZM300.03 301.44H320.96V304.28H300.03ZM323.49 301.44H335.62V304.28H323.49ZM341.08 301.44H356.14V304.28H341.08ZM364.54 301.44H370.8V304.28H364.54ZM300.03 303.88H306.3V306.72H300.03ZM308.83 303.88H356.14V306.72H308.83ZM300.03 306.32H364.94V309.16H300.03ZM367.47 306.32H370.8V309.16H367.47ZM300.03 308.76H312.16V311.6H300.03ZM335.22 308.76H350.28V311.6H335.22ZM352.81 308.76H370.8V311.6H352.81ZM302.96 311.2H332.68V314.04H302.96ZM335.22 311.2H344.41V314.04H335.22ZM349.88 311.2H353.21V314.04H349.88ZM302.96 313.64H335.62V316.48H302.96ZM338.15 313.64H359.07V316.48H338.15ZM364.54 313.64H370.8V316.48H364.54ZM300.03 316.08H323.89V318.92H300.03ZM326.42 316.08H353.21V318.92H326.42ZM355.74 316.08H362V318.92H355.74ZM344.01 318.52H347.34V321.36H344.01ZM349.88 318.52H362V321.36H349.88ZM364.54 318.52H367.87V321.36H364.54ZM346.94 320.96H353.21V323.8H346.94ZM361.6 320.96H367.87V323.8H361.6ZM329.35 323.4H362V326.24H329.35ZM364.54 323.4H370.8V326.24H364.54ZM329.35 325.84H350.28V328.68H329.35ZM361.6 325.84H370.8V328.68H361.6ZM335.22 328.28H353.21V331.12H335.22ZM341.08 330.72H350.28V333.56H341.08ZM364.54 330.72H370.8V333.56H364.54ZM329.35 333.16H335.62V336H329.35ZM338.15 333.16H344.41V336H338.15ZM329.35 335.6H344.41V338.44H329.35Z"/>
<path fill="#f6ee58" d="M341.08 277.04H353.21V279.88H341.08Z"/>
<path fill="#fd6a34" d="M232.6 279.48H244.72V282.32H232.6ZM232.6 281.92H247.66V284.76H232.6ZM235.53 284.36H247.66V287.2H235.53ZM235.53 286.8H241.79V289.64H235.53ZM223.8 289.24H230.06V292.08H223.8Z"/>
<path fill="#b02074" d="M258.98 279.48H271.11V282.32H258.98ZM258.98 281.92H276.98V284.76H258.98ZM253.12 284.36H259.38V287.2H253.12ZM261.92 284.36H265.25V287.2H261.92ZM267.78 284.36H282.84V287.2H267.78ZM253.12 286.8H259.38V289.64H253.12ZM261.92 286.8H265.25V289.64H261.92ZM270.71 286.8H276.98V289.64H270.71ZM279.51 286.8H282.84V289.64H279.51ZM253.12 289.24H256.45V292.08H253.12ZM261.92 289.24H265.25V292.08H261.92ZM270.71 289.24H276.98V292.08H270.71ZM279.51 289.24H285.77V292.08H279.51ZM235.53 291.68H241.79V294.52H235.53ZM270.71 291.68H285.77V294.52H270.71ZM226.73 294.12H244.72V296.96H226.73ZM270.71 294.12H282.84V296.96H270.71ZM235.53 296.56H241.79V299.4H235.53ZM250.19 296.56H259.38V299.4H250.19ZM232.6 299H238.86V301.84H232.6ZM241.39 299H262.32V301.84H241.39ZM226.73 301.44H262.32V304.28H226.73ZM229.66 303.88H250.59V306.72H229.66ZM253.12 303.88H271.11V306.72H253.12ZM241.39 306.32H256.45V309.16H241.39ZM261.92 306.32H274.04V309.16H261.92ZM232.6 308.76H247.66V311.6H232.6ZM256.05 308.76H285.77V311.6H256.05ZM235.53 311.2H241.79V314.04H235.53ZM258.98 311.2H285.77V314.04H258.98ZM267.78 313.64H276.98V316.48H267.78ZM282.44 320.96H291.64V323.8H282.44ZM279.51 323.4H291.64V326.24H279.51ZM285.37 325.84H291.64V328.68H285.37ZM285.37 328.28H291.64V331.12H285.37ZM288.3 330.72H297.5V333.56H288.3ZM291.24 333.16H300.43V336H291.24ZM294.17 335.6H300.43V338.44H294.17ZM297.1 338.04H300.43V340.88H297.1Z"/>
<path fill="#d82c54" d="M270.71 279.48H274.04V282.32H270.71ZM256.05 281.92H259.38V284.76H256.05ZM258.98 284.36H262.32V287.2H258.98ZM258.98 286.8H262.32V289.64H258.98ZM256.05 289.24H259.38V292.08H256.05ZM241.39 291.68H244.72V294.52H241.39ZM232.6 296.56H235.93V299.4H232.6ZM241.39 296.56H244.72V299.4H241.39ZM247.26 296.56H250.59V299.4H247.26ZM258.98 296.56H262.32V299.4H258.98ZM226.73 303.88H230.06V306.72H226.73ZM250.19 303.88H253.52V306.72H250.19ZM270.71 303.88H274.04V306.72H270.71ZM238.46 306.32H241.79V309.16H238.46ZM256.05 306.32H262.32V309.16H256.05ZM232.6 311.2H235.93V314.04H232.6ZM256.05 311.2H259.38V314.04H256.05ZM264.85 313.64H268.18V316.48H264.85ZM276.58 313.64H279.91V316.48H276.58ZM279.51 320.96H282.84V323.8H279.51ZM291.24 328.28H294.57V331.12H291.24ZM300.03 333.16H303.36V336H300.03ZM300.03 335.6H303.36V338.44H300.03ZM294.17 338.04H297.5V340.88H294.17Z"/>
<path fill="#d6f462" d="M317.62 279.48H326.82V282.32H317.62ZM317.62 281.92H320.96V284.76H317.62ZM311.76 284.36H318.02V287.2H311.76ZM311.76 286.8H318.02V289.64H311.76ZM300.03 296.56H303.36V299.4H300.03ZM241.39 325.84H244.72V328.68H241.39ZM253.12 325.84H262.32V328.68H253.12ZM305.9 328.28H315.09V331.12H305.9ZM355.74 328.28H362V331.12H355.74ZM323.49 333.16H329.75V336H323.49ZM247.26 335.6H250.59V338.44H247.26ZM261.92 335.6H265.25V338.44H261.92ZM323.49 335.6H326.82V338.44H323.49ZM226.73 338.04H233V340.88H226.73ZM261.92 338.04H265.25V340.88H261.92ZM358.67 338.04H370.8V340.88H358.67ZM267.78 340.48H271.11V343.32H267.78ZM285.37 340.48H291.64V343.32H285.37ZM358.67 340.48H362V343.32H358.67ZM282.44 342.92H288.7V345.76H282.44ZM341.08 342.92H347.34V345.76H341.08ZM358.67 342.92H362V345.76H358.67ZM282.44 345.36H285.77V348.2H282.44ZM344.01 345.36H353.21V348.2H344.01ZM364.54 345.36H367.87V348.2H364.54ZM346.94 347.8H359.07V350.64H346.94ZM364.54 347.8H367.87V350.64H364.54ZM346.94 350.24H367.87V353.08H346.94Z"/>
<path fill="#6a188e" d="M276.58 286.8H279.91V289.64H276.58ZM276.58 289.24H279.91V292.08H276.58ZM300.03 338.04H303.36V340.88H300.03Z"/>
<path fill="#84eec6" d="M326.42 335.6H329.75V338.44H326.42Z"/>
</g>
<g fill="none" stroke="#0c0c0c" stroke-width="0.66" stroke-linejoin="round" stroke-linecap="round" filter="url(#soft3)">
<path d="M224 388.5L226.64 388.5L226.64 390.46L228.98 390.21L230.74 391.68L232.5 392.9L233.09 394.6L234.56 395.58L236.9 395.82L238.07 396.8L238.66 398.02M242.76 398.02L243.94 396.07L245.4 395.58L247.46 395.09L250.09 393.63L250.97 390.94L251.27 388.26L250.39 385.09L249.22 383.14L248.04 381.67L245.99 380.45L243.64 378.5L242.76 377.04L240.71 375.08L241.3 372.64L243.06 371.67L243.94 370.2L245.99 369.47L247.46 368.74L248.92 368.01L250.68 368.74L252.15 368.5L252.73 369.96L252.44 371.42L253.91 371.67L254.79 370.94L254.49 369.47L256.25 368.74L258.6 368.25L261.53 367.76L263.58 367.03L263.88 365.57L265.05 366.3L267.69 365.81L269.74 365.57L272.38 364.84L274.43 363.62L276.78 361.66L278.83 360.44L280.59 358.98L281.76 357.03L282.93 355.56L284.4 353.61L286.74 351.9L287.33 349.95L288.21 348.24L285.87 347.27L284.99 347.27L286.74 346.29L288.21 345.56L287.92 343.85L285.28 341.66L283.81 338.73L280.59 336.29L280.29 335.56L281.47 334.34L283.52 333.36L284.69 332.38L287.04 331.41L289.97 331.16L290.26 329.94L287.04 329.7L284.99 328.97L282.64 329.94L280.29 330.43L279.41 329.46L277.66 328.24L275.9 327.5L275.9 326.04L277.66 325.8L280.29 325.06L282.05 323.6L284.99 322.38L286.16 321.4L288.8 322.14L289.09 322.87L287.04 324.58L286.16 326.53L287.62 326.04L289.97 324.82L292.9 324.09L295.25 323.84L296.42 324.58L298.18 325.06L297.59 326.77L296.42 328.24L298.18 329.21L300.53 329.21L301.99 330.43L301.4 331.9L301.99 333.85L301.11 336.04L301.7 337.51L304.04 336.53L305.22 336.29L307.56 335.8L309.32 335.56L310.49 333.85L310.2 331.9L309.91 330.19L308.15 328.24L306.98 327.02L304.63 325.31L304.92 324.09L306.98 323.36L309.61 322.14L311.08 321.16L311.37 319.7L313.13 317.99L314.01 317.99L315.48 317.26L317.53 316.04L319 315.55L321.34 316.77L323.69 316.28L327.21 314.82L329.55 312.62L332.48 310.18L335.71 307.74L337.18 306.28L339.23 304.32L341.87 302.86L342.45 300.42L343.04 297.98L343.33 295.78L345.09 293.83L345.09 292.12L343.92 290.9L341.28 289.2L337.47 288.95L336.59 289.93L333.66 289.93L331.9 287.98L335.12 287L327.21 287.24L348.61 276.75L357.7 276.26L366.79 276.51L370.6 275.78M348.61 288.46L350.08 290.42L350.96 292.37L350.66 295.54L351.84 298.47L353.59 300.91L355.06 302.13L351.84 301.15L349.78 303.35L349.2 305.54L350.37 306.76L351.54 308.23L349.49 307.5L347.44 309.2L346.85 306.76L347.44 304.08L347.73 301.64L347.44 299.2L347.73 296.76L346.26 294.32L346.56 291.15L348.61 288.46M346.85 310.18L350.66 312.86L353.89 313.84L356.82 313.11L356.53 314.82L358.29 315.3L355.35 316.52L350.96 318.72L346.56 317.26L344.21 317.5L342.45 317.99L344.51 319.21L341.87 320.18L341.28 318.72L340.69 317.26L342.75 315.55L345.09 315.55L346.26 312.62L346.85 310.18M343.92 319.94L345.68 320.18L345.68 322.38L347.14 324.58L345.68 327.75L344.21 328.48L344.21 330.92L343.04 332.63L343.92 334.09L342.45 335.31L340.99 336.04L340.69 334.58L340.11 335.31L338.64 335.56L337.76 336.78L336.88 335.8L336 336.78L332.48 336.78L332.19 335.8L331.31 337.02L332.19 337.51L330.43 338L328.97 339.46L326.91 338.48L326.91 337.51L327.79 336.78L324.57 336.53L321.34 337.51L319 337.51L318.12 338.48L314.89 338.24L314.6 337.26L316.06 337.02L319.58 334.82L321.64 334.34L324.57 334.34L327.5 334.09L329.55 334.09L329.85 332.63L331.6 331.16L333.36 329.7L332.48 331.41L333.66 331.41L336.88 329.94L339.52 327.99L340.69 326.04L341.28 323.84L340.99 322.14L342.16 320.67L343.92 319.94M325.45 337.75L325.74 338.73L324.27 339.95L322.52 339.46L320.76 341.41L319.29 340.68L319 339.46L320.46 338.24L322.52 337.75L325.45 337.75M314.6 338.48L316.94 339.22L317.53 340.68L316.06 344.1L315.19 344.83L314.01 345.56L312.55 344.83L312.55 343.12L313.72 341.66L312.55 341.17L311.37 341.66L311.08 340.19L313.13 339.22L314.6 338.48M287.04 359.47L288.5 360.2L287.33 362.64L286.74 364.84L285.28 367.52L284.4 366.54L282.93 365.08L283.23 363.13L284.69 361.18L285.57 360.2L287.04 359.47M251.27 372.64L254.2 372.16L256.25 373.13L254.79 375.33L252.44 376.79L249.51 376.06L249.22 374.11L251.27 372.64M284.4 376.06L289.09 376.3L289.38 379.72L287.04 382.4L287.62 386.31L291.44 387.28L294.66 390.46L292.32 389.48L290.26 388.99L288.5 387.53L285.57 387.77L284.4 386.06L285.28 385.33L282.93 385.09L282.35 381.67L283.81 380.7L283.81 378.26L284.4 376.06M283.81 388.5L286.16 388.5L287.04 390.7L285.87 391.43L284.99 390.21L283.81 388.5M295.25 390.7L298.18 390.7L299.35 393.87L297.3 396.8L296.71 394.6L295.25 393.14L295.25 390.7M288.5 392.16L291.73 393.14L290.26 395.58L288.21 395.58L288.5 392.16M291.44 394.6L292.9 394.85L292.32 398.02M289.97 398.02L289.68 396.8L291.44 394.6M294.37 393.87L292.61 397.78M292.02 390.7L294.37 391.92L293.2 392.16L292.02 390.7M281.17 393.38L280.59 395.34L278.24 397.53M298.47 397.29L299.94 398.02M295.54 393.38L297.01 393.63L297.3 395.82L296.71 396.56L296.42 395.09L295.54 394.6L295.54 393.38M293.78 396.56L295.83 396.56L296.13 397.53L294.37 397.78L293.78 396.56M287.92 388.26L288.8 388.5L288.5 388.99L287.92 388.26M294.66 387.04L295.54 387.28L295.25 388.02L294.66 387.04M288.5 390.46L289.09 390.94L288.8 391.68M289.97 390.7L290.56 390.94M282.35 391.19L283.52 391.92M294.66 393.63L294.07 395.34M235.14 295.05L237.49 295.54L240.42 294.56L243.35 293.1L246.87 291.64L250.09 289.68L252.15 287.24L253.03 285.05L251.85 285.05L250.09 287.49L247.75 289.44L244.82 290.9L241.89 292.12L238.95 293.59L236.61 294.44L235.14 295.05M224 295.05L227.52 295.54L230.45 296.03L230.74 297.74L233.68 298.71L239.83 298.22L243.64 298.47L249.22 300.91L255.67 301.4L261.53 300.42L265.93 298.47L272.96 299.69L276.19 300.42L280.29 298.96L280.59 297.74L282.93 295.3L284.69 294.32L282.64 292.37L285.28 291.15L289.38 290.66L293.2 290.66L299.06 291.64L301.7 293.83L304.63 298.71L304.92 299.69L310.49 300.66L314.01 301.88L314.6 304.81L319.29 304.81L325.45 303.1L325.45 305.06L323.39 308.23L321.05 311.16L317.53 310.67L314.89 311.64L315.77 315.06L313.72 317.74M272.96 299.69L270.91 302.13L270.33 303.59L275.02 304.81L278.24 304.32L281.76 306.52L279.71 307.25L275.02 307.98L272.67 308.23L270.03 310.18L266.51 310.42L263.88 311.89L258.89 311.4L257.42 312.86L258.89 314.57L254.49 316.77L251.27 317.74L244.52 317.99L238.66 319.7L237.19 318.96L232.8 318.72L229.28 317.5L224 317.01M295.25 323.84L297.3 322.14L300.23 321.16L302.87 319.21L306.1 319.94L306.98 318.72L309.91 317.74L311.67 316.28L313.72 317.74M300.53 329.21L303.75 327.75L307.27 327.02M247.46 368.74L244.52 368.01L243.64 365.32L239.54 364.35L238.07 365.57L235.43 366.3L232.5 366.3L230.16 366.54L228.98 366.3L228.69 369.47L227.52 369.47L224.29 371.67M230.16 366.54L232.8 368.25L233.09 370.45L237.19 370.69L238.37 372.89L235.43 374.11L239.25 375.82L240.71 378.01L243.06 379.72L245.4 381.92L245.99 384.6L246.28 385.33L245.99 389.48L246.28 391.19L242.76 392.16L241.3 392.9L241.89 394.6L238.95 394.6L237.19 395.82M246.28 385.33L243.06 385.82L241.3 387.28L239.25 386.31L235.73 386.19L232.8 386.55L231.33 388.02L231.04 389.72L232.5 392.65M239.25 386.31L240.42 382.89L237.78 380.94L237.78 378.74L235.73 376.55L232.8 377.28L230.16 376.79L227.52 378.5L227.23 376.06L227.81 373.62L225.47 373.62L225.17 371.91L224.29 371.67L224 371.42M234.85 388.75L236.02 389.24L237.19 390.46L236.61 390.7L235.43 389.72L234.85 388.75"/>
<path stroke-width="1.1" d="M357.11 314.33L359.17 312.62M361.51 312.62L364.74 310.42M366.5 309.94L369.13 308.72M369.72 308.23L370.6 307.74"/>
<path stroke-width="0.7" stroke="#333" d="M313.13 347.02L313.72 347.27M309.91 352.39L311.08 351.66M305.22 357.27L306.68 355.81M294.37 361.66L295.25 361.42M298.18 360.69L298.47 360.93M308.73 353.61L309.03 353.12M314.6 346.54L314.89 347.02M302.58 357.03L302.87 356.78M293.49 361.91L294.07 361.66M288.21 371.42L288.5 371.18M287.92 374.84L288.21 374.11M282.64 391.92L283.23 391.43M282.05 392.16L282.35 391.92"/>
<path stroke-width="0.5" stroke="#666" stroke-dasharray="0.5 1.5" d="M355.65 389.48L356.2 388.26L356.72 387.04L357.2 385.82L357.61 384.6L357.93 383.38L358.16 382.16L358.27 380.94L358.27 379.72L358.16 378.5L357.93 377.28L357.61 376.06L357.2 374.84L356.72 373.62L356.2 372.4L355.65 371.18"/>
<path stroke-width="0.9" stroke="#333" d="M355.06 388.99l0.5 -0.9"/>
<path stroke-width="0.5" stroke="#555" stroke-dasharray="0.6 1.1" d="M347.73 355.08L347.44 356.3"/>
</g>
</g>
<g fill="none" stroke="#6e6e6e" stroke-width="0.9" filter="url(#soft2)">
<rect x="224" y="274.8" width="146.6" height="123.2"/>
<path stroke="#3c3c3c" stroke-width="0.95" d="M221.5 398H371.1"/>
<path d="M221.5 274.8H224"/>
<path d="M224 299.2h-3.2M224 323.6h-3.2M224 348h-3.2M224 372.4h-3.2M224 398v4.2M253.32 398v4.2M282.64 398v4.2M311.96 398v4.2M341.28 398v4.2M370.6 398v4.2"/>
</g>
<g fill="#1c1c1c" stroke="#1c1c1c" stroke-width="0.28" filter="url(#soft2)">
<text x="201.7" y="303.1" font-size="11" textLength="17.3" lengthAdjust="spacingAndGlyphs">50°N</text>
<text x="201.7" y="327.5" font-size="11" textLength="17.3" lengthAdjust="spacingAndGlyphs">40°N</text>
<text x="201.7" y="351.9" font-size="11" textLength="17.3" lengthAdjust="spacingAndGlyphs">30°N</text>
<text x="201.7" y="376.3" font-size="11" textLength="17.3" lengthAdjust="spacingAndGlyphs">20°N</text>
<text x="243.72" y="414.6" font-size="12.2" textLength="20" lengthAdjust="spacingAndGlyphs">110°E</text>
<text x="273.04" y="414.6" font-size="12.2" textLength="20" lengthAdjust="spacingAndGlyphs">120°E</text>
<text x="302.36" y="414.6" font-size="12.2" textLength="20" lengthAdjust="spacingAndGlyphs">130°E</text>
<text x="331.68" y="414.6" font-size="12.2" textLength="20" lengthAdjust="spacingAndGlyphs">140°E</text>
<text x="238.9" y="270.1" font-size="7.3" textLength="117.3" lengthAdjust="spacingAndGlyphs" stroke-width="0.2">[gosan] 14/03/13 18:00 - 14/03/13 21:00_EastAsia</text>
</g>
<g filter="url(#soft2)">
<rect x="373.6" y="274.8" width="7.7" height="120.8" fill="url(#cb)" stroke="#888" stroke-width="0.5"/>
<path d="M381.6 282.4h-3.2M381.6 279.06h-1.9M381.6 277.1h-1.9M381.6 275.72h-1.9M381.6 293.5h-3.2M381.6 290.16h-1.9M381.6 288.2h-1.9M381.6 286.82h-1.9M381.6 285.74h-1.9M381.6 284.86h-1.9M381.6 284.12h-1.9M381.6 283.48h-1.9M381.6 282.91h-1.9M381.6 304.6h-3.2M381.6 301.26h-1.9M381.6 299.3h-1.9M381.6 297.92h-1.9M381.6 296.84h-1.9M381.6 295.96h-1.9M381.6 295.22h-1.9M381.6 294.58h-1.9M381.6 294.01h-1.9M381.6 315.7h-3.2M381.6 312.36h-1.9M381.6 310.4h-1.9M381.6 309.02h-1.9M381.6 307.94h-1.9M381.6 307.06h-1.9M381.6 306.32h-1.9M381.6 305.68h-1.9M381.6 305.11h-1.9M381.6 326.8h-3.2M381.6 323.46h-1.9M381.6 321.5h-1.9M381.6 320.12h-1.9M381.6 319.04h-1.9M381.6 318.16h-1.9M381.6 317.42h-1.9M381.6 316.78h-1.9M381.6 316.21h-1.9M381.6 337.9h-3.2M381.6 334.56h-1.9M381.6 332.6h-1.9M381.6 331.22h-1.9M381.6 330.14h-1.9M381.6 329.26h-1.9M381.6 328.52h-1.9M381.6 327.88h-1.9M381.6 327.31h-1.9M381.6 349h-3.2M381.6 345.66h-1.9M381.6 343.7h-1.9M381.6 342.32h-1.9M381.6 341.24h-1.9M381.6 340.36h-1.9M381.6 339.62h-1.9M381.6 338.98h-1.9M381.6 338.41h-1.9M381.6 360.1h-3.2M381.6 356.76h-1.9M381.6 354.8h-1.9M381.6 353.42h-1.9M381.6 352.34h-1.9M381.6 351.46h-1.9M381.6 350.72h-1.9M381.6 350.08h-1.9M381.6 349.51h-1.9M381.6 371.2h-3.2M381.6 367.86h-1.9M381.6 365.9h-1.9M381.6 364.52h-1.9M381.6 363.44h-1.9M381.6 362.56h-1.9M381.6 361.82h-1.9M381.6 361.18h-1.9M381.6 360.61h-1.9M381.6 382.3h-3.2M381.6 378.96h-1.9M381.6 377h-1.9M381.6 375.62h-1.9M381.6 374.54h-1.9M381.6 373.66h-1.9M381.6 372.92h-1.9M381.6 372.28h-1.9M381.6 371.71h-1.9M381.6 393.4h-3.2M381.6 390.06h-1.9M381.6 388.1h-1.9M381.6 386.72h-1.9M381.6 385.64h-1.9M381.6 384.76h-1.9M381.6 384.02h-1.9M381.6 383.38h-1.9M381.6 382.81h-1.9M381.6 395.12h-1.9M381.6 394.48h-1.9M381.6 393.91h-1.9" stroke="#1a1a1a" stroke-width="0.7" fill="none"/>
<text x="385.3" y="285.4" font-size="6.6" fill="#2a2a2a" textLength="4.6" lengthAdjust="spacingAndGlyphs">10</text>
<text x="390.1" y="282.3" font-size="4.9" fill="#2a2a2a" textLength="2.9" lengthAdjust="spacingAndGlyphs">-9</text>
<text x="385.3" y="296.5" font-size="6.6" fill="#2a2a2a" textLength="4.6" lengthAdjust="spacingAndGlyphs">10</text>
<text x="390.1" y="293.4" font-size="4.9" fill="#2a2a2a" textLength="4.3" lengthAdjust="spacingAndGlyphs">-10</text>
<text x="385.3" y="307.6" font-size="6.6" fill="#2a2a2a" textLength="4.6" lengthAdjust="spacingAndGlyphs">10</text>
<text x="390.1" y="304.5" font-size="4.9" fill="#2a2a2a" textLength="4.3" lengthAdjust="spacingAndGlyphs">-11</text>
<text x="385.3" y="318.7" font-size="6.6" fill="#2a2a2a" textLength="4.6" lengthAdjust="spacingAndGlyphs">10</text>
<text x="390.1" y="315.6" font-size="4.9" fill="#2a2a2a" textLength="4.3" lengthAdjust="spacingAndGlyphs">-12</text>
<text x="385.3" y="329.8" font-size="6.6" fill="#2a2a2a" textLength="4.6" lengthAdjust="spacingAndGlyphs">10</text>
<text x="390.1" y="326.7" font-size="4.9" fill="#2a2a2a" textLength="4.3" lengthAdjust="spacingAndGlyphs">-13</text>
<text x="385.3" y="340.9" font-size="6.6" fill="#2a2a2a" textLength="4.6" lengthAdjust="spacingAndGlyphs">10</text>
<text x="390.1" y="337.8" font-size="4.9" fill="#2a2a2a" textLength="4.3" lengthAdjust="spacingAndGlyphs">-14</text>
<text x="385.3" y="352" font-size="6.6" fill="#2a2a2a" textLength="4.6" lengthAdjust="spacingAndGlyphs">10</text>
<text x="390.1" y="348.9" font-size="4.9" fill="#2a2a2a" textLength="4.3" lengthAdjust="spacingAndGlyphs">-15</text>
<text x="385.3" y="363.1" font-size="6.6" fill="#2a2a2a" textLength="4.6" lengthAdjust="spacingAndGlyphs">10</text>
<text x="390.1" y="360" font-size="4.9" fill="#2a2a2a" textLength="4.3" lengthAdjust="spacingAndGlyphs">-16</text>
<text x="385.3" y="374.2" font-size="6.6" fill="#2a2a2a" textLength="4.6" lengthAdjust="spacingAndGlyphs">10</text>
<text x="390.1" y="371.1" font-size="4.9" fill="#2a2a2a" textLength="4.3" lengthAdjust="spacingAndGlyphs">-17</text>
<text x="385.3" y="385.3" font-size="6.6" fill="#2a2a2a" textLength="4.6" lengthAdjust="spacingAndGlyphs">10</text>
<text x="390.1" y="382.2" font-size="4.9" fill="#2a2a2a" textLength="4.3" lengthAdjust="spacingAndGlyphs">-18</text>
<text x="385.3" y="396.4" font-size="6.6" fill="#2a2a2a" textLength="4.6" lengthAdjust="spacingAndGlyphs">10</text>
<text x="390.1" y="393.3" font-size="4.9" fill="#2a2a2a" textLength="4.3" lengthAdjust="spacingAndGlyphs">-19</text>
</g>
</g>
<g id="map2">
<clipPath id="clip2"><rect x="425.9" y="273.5" width="147.4" height="122.1"/></clipPath>
<g clip-path="url(#clip2)">
<g filter="url(#soft)">
<path fill="#fde04a" d="M425.7 278.18H437.89V281.02H425.7ZM446.34 280.62H452.63V283.46H446.34ZM461.08 283.06H467.37V285.9H461.08ZM469.92 285.5H473.27V288.34H469.92ZM484.66 295.26H488.01V298.1H484.66ZM484.66 297.7H490.96V300.54H484.66ZM493.5 300.14H502.75V302.98H493.5ZM499.4 305.02H502.75V307.86H499.4ZM505.3 307.46H511.59V310.3H505.3ZM508.24 309.9H511.59V312.74H508.24ZM505.3 312.34H511.59V315.18H505.3ZM508.24 314.78H514.54V317.62H508.24ZM505.3 317.22H508.64V320.06H505.3ZM505.3 319.66H508.64V322.5H505.3ZM505.3 322.1H511.59V324.94H505.3ZM508.24 324.54H517.49V327.38H508.24ZM511.19 326.98H517.49V329.82H511.19ZM511.19 329.42H517.49V332.26H511.19ZM508.24 331.86H517.49V334.7H508.24ZM508.24 334.3H517.49V337.14H508.24ZM511.19 336.74H517.49V339.58H511.19ZM511.19 339.18H517.49V342.02H511.19ZM511.19 341.62H517.49V344.46H511.19ZM511.19 344.06H517.49V346.9H511.19ZM511.19 346.5H517.49V349.34H511.19ZM514.14 348.94H517.49V351.78H514.14ZM511.19 351.38H517.49V354.22H511.19ZM514.14 353.82H517.49V356.66H514.14ZM514.14 356.26H517.49V359.1H514.14ZM514.14 368.46H517.49V371.3H514.14ZM508.24 370.9H517.49V373.74H508.24ZM505.3 373.34H514.54V376.18H505.3ZM502.35 375.78H511.59V378.62H502.35ZM493.5 378.22H511.59V381.06H493.5ZM484.66 380.66H493.9V383.5H484.66ZM496.45 380.66H502.75V383.5H496.45ZM484.66 383.1H499.8V385.94H484.66ZM484.66 385.54H490.96V388.38H484.66ZM475.82 387.98H485.06V390.82H475.82ZM490.56 387.98H499.8V390.82H490.56ZM466.97 390.42H479.16V393.26H466.97ZM490.56 390.42H499.8V393.26H490.56ZM455.18 392.86H470.32V395.7H455.18Z"/>
<path fill="#d6f462" d="M437.49 278.18H440.84V281.02H437.49ZM466.97 283.06H470.32V285.9H466.97ZM472.87 285.5H476.22V288.34H472.87ZM472.87 287.94H476.22V290.78H472.87ZM475.82 290.38H482.11V293.22H475.82ZM478.76 292.82H485.06V295.66H478.76ZM487.61 295.26H490.96V298.1H487.61ZM490.56 297.7H493.9V300.54H490.56ZM499.4 302.58H502.75V305.42H499.4ZM502.35 305.02H505.7V307.86H502.35ZM511.19 307.46H517.49V310.3H511.19ZM505.3 309.9H508.64V312.74H505.3ZM567.2 314.78H570.55V317.62H567.2ZM531.83 317.22H535.18V320.06H531.83ZM561.31 317.22H564.66V320.06H561.31ZM570.15 317.22H573.5V320.06H570.15ZM531.83 319.66H535.18V322.5H531.83ZM558.36 319.66H570.55V322.5H558.36ZM543.62 322.1H546.97V324.94H543.62ZM549.52 322.1H555.81V324.94H549.52ZM558.36 322.1H564.66V324.94H558.36ZM570.15 322.1H573.5V324.94H570.15ZM537.72 324.54H544.02V327.38H537.72ZM552.46 324.54H558.76V327.38H552.46ZM567.2 324.54H573.5V327.38H567.2ZM552.46 326.98H561.71V329.82H552.46ZM567.2 326.98H573.5V329.82H567.2ZM540.67 329.42H544.02V332.26H540.67ZM549.52 329.42H564.66V332.26H549.52ZM570.15 329.42H573.5V332.26H570.15ZM537.72 331.86H541.07V334.7H537.72ZM552.46 331.86H555.81V334.7H552.46ZM564.26 331.86H567.6V334.7H564.26ZM543.62 334.3H552.86V337.14H543.62ZM561.31 334.3H567.6V337.14H561.31ZM570.15 334.3H573.5V337.14H570.15ZM558.36 336.74H561.71V339.58H558.36ZM564.26 336.74H573.5V339.58H564.26ZM531.83 339.18H535.18V342.02H531.83ZM555.41 339.18H558.76V342.02H555.41ZM561.31 339.18H573.5V342.02H561.31ZM520.04 341.62H532.23V344.46H520.04ZM555.41 341.62H561.71V344.46H555.41ZM520.04 344.06H532.23V346.9H520.04ZM540.67 344.06H544.02V346.9H540.67ZM546.57 344.06H552.86V346.9H546.57ZM555.41 344.06H561.71V346.9H555.41ZM528.88 346.5H532.23V349.34H528.88ZM534.78 346.5H541.07V349.34H534.78ZM543.62 346.5H546.97V349.34H543.62ZM552.46 346.5H555.81V349.34H552.46ZM525.93 348.94H535.18V351.78H525.93ZM525.93 351.38H532.23V354.22H525.93ZM522.98 358.7H538.12V361.54H522.98ZM537.72 361.14H546.97V363.98H537.72ZM552.46 361.14H564.66V363.98H552.46ZM537.72 363.58H541.07V366.42H537.72ZM546.57 363.58H561.71V366.42H546.57ZM546.57 366.02H552.86V368.86H546.57ZM531.83 368.46H541.07V371.3H531.83ZM546.57 368.46H552.86V371.3H546.57ZM517.09 370.9H529.28V373.74H517.09ZM514.14 373.34H523.38V376.18H514.14ZM546.57 373.34H552.86V376.18H546.57ZM511.19 375.78H517.49V378.62H511.19ZM534.78 375.78H541.07V378.62H534.78ZM546.57 375.78H552.86V378.62H546.57ZM522.98 378.22H529.28V381.06H522.98ZM534.78 378.22H541.07V381.06H534.78ZM502.35 380.66H505.7V383.5H502.35ZM522.98 380.66H529.28V383.5H522.98ZM534.78 380.66H541.07V383.5H534.78ZM499.4 383.1H505.7V385.94H499.4ZM520.04 383.1H529.28V385.94H520.04ZM490.56 385.54H514.54V388.38H490.56ZM499.4 387.98H505.7V390.82H499.4ZM478.76 390.42H485.06V393.26H478.76ZM499.4 390.42H505.7V393.26H499.4ZM469.92 392.86H485.06V395.7H469.92ZM490.56 392.86H502.75V395.7H490.56Z"/>
<path fill="#feb540" d="M425.7 280.62H429.05V283.46H425.7ZM443.39 280.62H446.74V283.46H443.39ZM458.13 283.06H461.48V285.9H458.13ZM466.97 285.5H470.32V288.34H466.97ZM469.92 287.94H473.27V290.78H469.92ZM472.87 290.38H476.22V293.22H472.87ZM472.87 292.82H479.16V295.66H472.87ZM472.87 295.26H485.06V298.1H472.87ZM475.82 297.7H485.06V300.54H475.82ZM487.61 300.14H493.9V302.98H487.61ZM490.56 302.58H499.8V305.42H490.56ZM484.66 305.02H499.8V307.86H484.66ZM502.35 307.46H505.7V310.3H502.35ZM511.19 309.9H517.49V312.74H511.19ZM511.19 312.34H517.49V315.18H511.19ZM505.3 314.78H508.64V317.62H505.3ZM514.14 314.78H520.44V317.62H514.14ZM466.97 317.22H470.32V320.06H466.97ZM502.35 317.22H505.7V320.06H502.35ZM508.24 317.22H523.38V320.06H508.24ZM499.4 319.66H505.7V322.5H499.4ZM508.24 319.66H523.38V322.5H508.24ZM502.35 322.1H505.7V324.94H502.35ZM511.19 322.1H520.44V324.94H511.19ZM505.3 324.54H508.64V327.38H505.3ZM505.3 326.98H511.59V329.82H505.3ZM537.72 326.98H541.07V329.82H537.72ZM505.3 329.42H511.59V332.26H505.3ZM505.3 331.86H508.64V334.7H505.3ZM431.6 334.3H437.89V337.14H431.6ZM505.3 334.3H508.64V337.14H505.3ZM508.24 336.74H511.59V339.58H508.24ZM505.3 339.18H511.59V342.02H505.3ZM505.3 341.62H511.59V344.46H505.3ZM431.6 344.06H434.94V346.9H431.6ZM505.3 344.06H511.59V346.9H505.3ZM505.3 346.5H511.59V349.34H505.3ZM505.3 348.94H514.54V351.78H505.3ZM502.35 351.38H511.59V354.22H502.35ZM502.35 353.82H514.54V356.66H502.35ZM505.3 356.26H514.54V359.1H505.3ZM508.24 358.7H517.49V361.54H508.24ZM455.18 361.14H458.53V363.98H455.18ZM517.09 361.14H529.28V363.98H517.09ZM425.7 363.58H429.05V366.42H425.7ZM455.18 363.58H458.53V366.42H455.18ZM520.04 363.58H538.12V366.42H520.04ZM505.3 366.02H520.44V368.86H505.3ZM502.35 368.46H514.54V371.3H502.35ZM499.4 370.9H508.64V373.74H499.4ZM496.45 373.34H505.7V376.18H496.45ZM425.7 375.78H429.05V378.62H425.7ZM484.66 375.78H490.96V378.62H484.66ZM493.5 375.78H502.75V378.62H493.5ZM425.7 378.22H429.05V381.06H425.7ZM484.66 378.22H493.9V381.06H484.66ZM493.5 380.66H496.85V383.5H493.5ZM464.02 385.54H476.22V388.38H464.02ZM481.71 385.54H485.06V388.38H481.71ZM464.02 387.98H476.22V390.82H464.02ZM455.18 390.42H467.37V393.26H455.18ZM425.7 392.86H455.58V395.7H425.7Z"/>
<path fill="#fe8e38" d="M428.65 280.62H443.79V283.46H428.65ZM425.7 283.06H458.53V285.9H425.7ZM425.7 285.5H455.58V288.34H425.7ZM425.7 287.94H455.58V290.78H425.7ZM428.65 290.38H458.53V293.22H428.65ZM443.39 292.82H446.74V295.66H443.39ZM461.08 295.26H473.27V298.1H461.08ZM464.02 297.7H476.22V300.54H464.02ZM464.02 300.14H473.27V302.98H464.02ZM478.76 300.14H488.01V302.98H478.76ZM478.76 302.58H490.96V305.42H478.76ZM475.82 305.02H485.06V307.86H475.82ZM484.66 307.46H502.75V310.3H484.66ZM493.5 309.9H505.7V312.74H493.5ZM496.45 312.34H505.7V315.18H496.45ZM496.45 314.78H505.7V317.62H496.45ZM496.45 317.22H502.75V320.06H496.45ZM496.45 319.66H499.8V322.5H496.45ZM499.4 322.1H502.75V324.94H499.4ZM502.35 324.54H505.7V327.38H502.35ZM502.35 326.98H505.7V329.82H502.35ZM502.35 329.42H505.7V332.26H502.35ZM505.3 336.74H508.64V339.58H505.3ZM502.35 339.18H505.7V342.02H502.35ZM502.35 341.62H505.7V344.46H502.35ZM502.35 344.06H505.7V346.9H502.35ZM425.7 346.5H434.94V349.34H425.7ZM493.5 346.5H496.85V349.34H493.5ZM499.4 346.5H505.7V349.34H499.4ZM490.56 348.94H496.85V351.78H490.56ZM499.4 348.94H505.7V351.78H499.4ZM490.56 351.38H502.75V354.22H490.56ZM425.7 353.82H432V356.66H425.7ZM487.61 353.82H502.75V356.66H487.61ZM425.7 356.26H434.94V359.1H425.7ZM484.66 356.26H496.85V359.1H484.66ZM499.4 356.26H505.7V359.1H499.4ZM425.7 358.7H437.89V361.54H425.7ZM481.71 358.7H496.85V361.54H481.71ZM499.4 358.7H508.64V361.54H499.4ZM425.7 361.14H440.84V363.98H425.7ZM475.82 361.14H496.85V363.98H475.82ZM502.35 361.14H517.49V363.98H502.35ZM428.65 363.58H443.79V366.42H428.65ZM466.97 363.58H496.85V366.42H466.97ZM505.3 363.58H520.44V366.42H505.3ZM425.7 366.02H443.79V368.86H425.7ZM452.23 366.02H505.7V368.86H452.23ZM425.7 368.46H437.89V371.3H425.7ZM443.39 368.46H458.53V371.3H443.39ZM493.5 368.46H502.75V371.3H493.5ZM425.7 370.9H437.89V373.74H425.7ZM443.39 370.9H458.53V373.74H443.39ZM493.5 370.9H499.8V373.74H493.5ZM425.7 373.34H437.89V376.18H425.7ZM443.39 373.34H458.53V376.18H443.39ZM493.5 373.34H496.85V376.18H493.5ZM428.65 375.78H458.53V378.62H428.65ZM478.76 375.78H485.06V378.62H478.76ZM490.56 375.78H493.9V378.62H490.56ZM428.65 378.22H461.48V381.06H428.65ZM475.82 378.22H485.06V381.06H475.82ZM425.7 380.66H467.37V383.5H425.7ZM478.76 380.66H485.06V383.5H478.76ZM425.7 383.1H470.32V385.94H425.7ZM478.76 383.1H485.06V385.94H478.76ZM425.7 385.54H464.42V388.38H425.7ZM475.82 385.54H482.11V388.38H475.82ZM425.7 387.98H464.42V390.82H425.7ZM425.7 390.42H455.58V393.26H425.7Z"/>
<path fill="#f43a2e" d="M455.18 285.5H458.53V288.34H455.18ZM455.18 287.94H458.53V290.78H455.18ZM425.7 290.38H429.05V293.22H425.7ZM425.7 292.82H434.94V295.66H425.7ZM446.34 292.82H452.63V295.66H446.34ZM425.7 295.26H455.58V298.1H425.7ZM425.7 297.7H452.63V300.54H425.7ZM431.6 300.14H464.42V302.98H431.6ZM472.87 300.14H479.16V302.98H472.87ZM469.92 302.58H479.16V305.42H469.92ZM464.02 305.02H476.22V307.86H464.02ZM425.7 307.46H437.89V310.3H425.7ZM425.7 309.9H437.89V312.74H425.7ZM425.7 312.34H434.94V315.18H425.7ZM455.18 317.22H467.37V320.06H455.18ZM428.65 319.66H432V322.5H428.65ZM437.49 319.66H443.79V322.5H437.49ZM455.18 319.66H467.37V322.5H455.18ZM472.87 319.66H479.16V322.5H472.87ZM428.65 322.1H432V324.94H428.65ZM440.44 322.1H458.53V324.94H440.44ZM472.87 322.1H479.16V324.94H472.87ZM440.44 324.54H458.53V327.38H440.44ZM496.45 324.54H499.8V327.38H496.45ZM446.34 326.98H458.53V329.82H446.34ZM464.02 326.98H473.27V329.82H464.02ZM478.76 326.98H499.8V329.82H478.76ZM437.49 329.42H458.53V332.26H437.49ZM466.97 329.42H493.9V332.26H466.97ZM499.4 329.42H502.75V332.26H499.4ZM437.49 331.86H452.63V334.7H437.49ZM455.18 331.86H461.48V334.7H455.18ZM466.97 331.86H488.01V334.7H466.97ZM437.49 334.3H452.63V337.14H437.49ZM455.18 334.3H461.48V337.14H455.18ZM466.97 334.3H485.06V337.14H466.97ZM437.49 336.74H449.68V339.58H437.49ZM455.18 336.74H464.42V339.58H455.18ZM472.87 336.74H482.11V339.58H472.87ZM502.35 336.74H505.7V339.58H502.35ZM434.54 339.18H437.89V342.02H434.54ZM443.39 339.18H449.68V342.02H443.39ZM452.23 339.18H455.58V342.02H452.23ZM461.08 339.18H464.42V342.02H461.08ZM478.76 339.18H485.06V342.02H478.76ZM496.45 339.18H499.8V342.02H496.45ZM434.54 341.62H437.89V344.46H434.54ZM443.39 341.62H449.68V344.46H443.39ZM452.23 341.62H455.58V344.46H452.23ZM461.08 341.62H464.42V344.46H461.08ZM490.56 341.62H493.9V344.46H490.56ZM496.45 341.62H499.8V344.46H496.45ZM434.54 344.06H455.58V346.9H434.54ZM490.56 344.06H499.8V346.9H490.56ZM434.54 346.5H449.68V349.34H434.54ZM455.18 346.5H461.48V349.34H455.18ZM490.56 346.5H493.9V349.34H490.56ZM496.45 346.5H499.8V349.34H496.45ZM425.7 348.94H449.68V351.78H425.7ZM458.13 348.94H464.42V351.78H458.13ZM487.61 348.94H490.96V351.78H487.61ZM425.7 351.38H449.68V354.22H425.7ZM455.18 351.38H461.48V354.22H455.18ZM487.61 351.38H490.96V354.22H487.61ZM431.6 353.82H452.63V356.66H431.6ZM455.18 353.82H458.53V356.66H455.18ZM481.71 353.82H488.01V356.66H481.71ZM434.54 356.26H452.63V359.1H434.54ZM455.18 356.26H461.48V359.1H455.18ZM478.76 356.26H485.06V359.1H478.76ZM437.49 358.7H455.58V361.54H437.49ZM475.82 358.7H482.11V361.54H475.82ZM440.44 361.14H455.58V363.98H440.44ZM458.13 361.14H464.42V363.98H458.13ZM469.92 361.14H476.22V363.98H469.92ZM443.39 363.58H455.58V366.42H443.39Z"/>
<path fill="#fd6a34" d="M458.13 285.5H467.37V288.34H458.13ZM458.13 287.94H470.32V290.78H458.13ZM458.13 290.38H473.27V293.22H458.13ZM434.54 292.82H443.79V295.66H434.54ZM452.23 292.82H473.27V295.66H452.23ZM455.18 295.26H461.48V298.1H455.18ZM452.23 297.7H464.42V300.54H452.23ZM425.7 300.14H432V302.98H425.7ZM425.7 302.58H470.32V305.42H425.7ZM425.7 305.02H464.42V307.86H425.7ZM437.49 307.46H485.06V310.3H437.49ZM437.49 309.9H493.9V312.74H437.49ZM434.54 312.34H496.85V315.18H434.54ZM425.7 314.78H496.85V317.62H425.7ZM425.7 317.22H455.58V320.06H425.7ZM469.92 317.22H496.85V320.06H469.92ZM425.7 319.66H429.05V322.5H425.7ZM431.6 319.66H437.89V322.5H431.6ZM443.39 319.66H455.58V322.5H443.39ZM466.97 319.66H473.27V322.5H466.97ZM478.76 319.66H496.85V322.5H478.76ZM425.7 322.1H429.05V324.94H425.7ZM431.6 322.1H440.84V324.94H431.6ZM458.13 322.1H473.27V324.94H458.13ZM478.76 322.1H499.8V324.94H478.76ZM425.7 324.54H440.84V327.38H425.7ZM458.13 324.54H496.85V327.38H458.13ZM499.4 324.54H502.75V327.38H499.4ZM425.7 326.98H446.74V329.82H425.7ZM458.13 326.98H464.42V329.82H458.13ZM472.87 326.98H479.16V329.82H472.87ZM499.4 326.98H502.75V329.82H499.4ZM425.7 329.42H437.89V332.26H425.7ZM458.13 329.42H467.37V332.26H458.13ZM425.7 331.86H437.89V334.7H425.7ZM452.23 331.86H455.58V334.7H452.23ZM461.08 331.86H467.37V334.7H461.08ZM502.35 331.86H505.7V334.7H502.35ZM425.7 334.3H432V337.14H425.7ZM452.23 334.3H455.58V337.14H452.23ZM461.08 334.3H467.37V337.14H461.08ZM425.7 336.74H437.89V339.58H425.7ZM449.28 336.74H455.58V339.58H449.28ZM425.7 339.18H434.94V342.02H425.7ZM449.28 339.18H452.63V342.02H449.28ZM455.18 339.18H461.48V342.02H455.18ZM499.4 339.18H502.75V342.02H499.4ZM425.7 341.62H434.94V344.46H425.7ZM449.28 341.62H452.63V344.46H449.28ZM455.18 341.62H461.48V344.46H455.18ZM493.5 341.62H496.85V344.46H493.5ZM499.4 341.62H502.75V344.46H499.4ZM425.7 344.06H432V346.9H425.7ZM455.18 344.06H461.48V346.9H455.18ZM499.4 344.06H502.75V346.9H499.4ZM496.45 348.94H499.8V351.78H496.45ZM496.45 356.26H499.8V359.1H496.45ZM455.18 358.7H458.53V361.54H455.18ZM496.45 358.7H499.8V361.54H496.45ZM496.45 361.14H502.75V363.98H496.45ZM458.13 363.58H467.37V366.42H458.13ZM496.45 363.58H505.7V366.42H496.45ZM443.39 366.02H452.63V368.86H443.39ZM437.49 368.46H443.79V371.3H437.49ZM458.13 368.46H493.9V371.3H458.13ZM437.49 370.9H443.79V373.74H437.49ZM458.13 370.9H493.9V373.74H458.13ZM437.49 373.34H443.79V376.18H437.49ZM458.13 373.34H493.9V376.18H458.13ZM458.13 375.78H479.16V378.62H458.13ZM461.08 378.22H476.22V381.06H461.08ZM466.97 380.66H479.16V383.5H466.97ZM469.92 383.1H479.16V385.94H469.92Z"/>
<path fill="#f6ee58" d="M520.04 309.9H529.28V312.74H520.04ZM517.09 312.34H529.28V315.18H517.09ZM520.04 314.78H532.23V317.62H520.04ZM570.15 314.78H573.5V317.62H570.15ZM522.98 317.22H532.23V320.06H522.98ZM564.26 317.22H567.6V320.06H564.26ZM522.98 319.66H532.23V322.5H522.98ZM520.04 322.1H535.18V324.94H520.04ZM540.67 322.1H544.02V324.94H540.67ZM546.57 322.1H549.92V324.94H546.57ZM517.09 324.54H538.12V327.38H517.09ZM543.62 324.54H546.97V327.38H543.62ZM549.52 324.54H552.86V327.38H549.52ZM558.36 324.54H561.71V327.38H558.36ZM517.09 326.98H532.23V329.82H517.09ZM540.67 326.98H546.97V329.82H540.67ZM549.52 326.98H552.86V329.82H549.52ZM561.31 326.98H567.6V329.82H561.31ZM517.09 329.42H532.23V332.26H517.09ZM537.72 329.42H541.07V332.26H537.72ZM543.62 329.42H546.97V332.26H543.62ZM564.26 329.42H570.55V332.26H564.26ZM517.09 331.86H538.12V334.7H517.09ZM540.67 331.86H552.86V334.7H540.67ZM555.41 331.86H558.76V334.7H555.41ZM567.2 331.86H573.5V334.7H567.2ZM517.09 334.3H544.02V337.14H517.09ZM552.46 334.3H558.76V337.14H552.46ZM517.09 336.74H558.76V339.58H517.09ZM517.09 339.18H532.23V342.02H517.09ZM534.78 339.18H555.81V342.02H534.78ZM558.36 339.18H561.71V342.02H558.36ZM517.09 341.62H520.44V344.46H517.09ZM531.83 341.62H555.81V344.46H531.83ZM517.09 344.06H520.44V346.9H517.09ZM531.83 344.06H541.07V346.9H531.83ZM543.62 344.06H546.97V346.9H543.62ZM552.46 344.06H555.81V346.9H552.46ZM517.09 346.5H520.44V349.34H517.09ZM531.83 346.5H535.18V349.34H531.83ZM540.67 346.5H544.02V349.34H540.67ZM546.57 346.5H552.86V349.34H546.57ZM517.09 348.94H520.44V351.78H517.09ZM517.09 351.38H520.44V354.22H517.09ZM517.09 358.7H523.38V361.54H517.09ZM528.88 361.14H538.12V363.98H528.88ZM546.57 361.14H552.86V363.98H546.57ZM540.67 363.58H546.97V366.42H540.67ZM520.04 366.02H546.97V368.86H520.04ZM517.09 368.46H532.23V371.3H517.09Z"/>
<path fill="#a8f07c" d="M564.26 314.78H567.6V317.62H564.26ZM567.2 317.22H570.55V320.06H567.2ZM555.41 322.1H558.76V324.94H555.41ZM567.2 322.1H570.55V324.94H567.2ZM561.31 324.54H564.66V327.38H561.31ZM561.31 331.86H564.66V334.7H561.31ZM558.36 334.3H561.71V337.14H558.36ZM567.2 334.3H570.55V337.14H567.2ZM561.31 336.74H564.66V339.58H561.31ZM534.78 348.94H541.07V351.78H534.78ZM534.78 351.38H541.07V354.22H534.78ZM517.09 353.82H520.44V356.66H517.09ZM517.09 356.26H523.38V359.1H517.09ZM552.46 358.7H558.76V361.54H552.46Z"/>
<path fill="#d82c54" d="M493.5 329.42H499.8V332.26H493.5ZM487.61 331.86H490.96V334.7H487.61ZM499.4 331.86H502.75V334.7H499.4ZM484.66 334.3H490.96V337.14H484.66ZM464.02 336.74H473.27V339.58H464.02ZM481.71 336.74H488.01V339.58H481.71ZM464.02 339.18H467.37V342.02H464.02ZM475.82 339.18H479.16V342.02H475.82ZM484.66 339.18H488.01V342.02H484.66ZM461.08 344.06H464.42V346.9H461.08ZM449.28 346.5H455.58V349.34H449.28ZM461.08 346.5H467.37V349.34H461.08ZM449.28 348.94H458.53V351.78H449.28ZM449.28 351.38H455.58V354.22H449.28ZM461.08 351.38H464.42V354.22H461.08ZM484.66 351.38H488.01V354.22H484.66ZM452.23 353.82H455.58V356.66H452.23ZM458.13 353.82H461.48V356.66H458.13ZM478.76 353.82H482.11V356.66H478.76ZM452.23 356.26H455.58V359.1H452.23ZM475.82 356.26H479.16V359.1H475.82ZM458.13 358.7H464.42V361.54H458.13ZM472.87 358.7H476.22V361.54H472.87Z"/>
<path fill="#b02074" d="M490.56 331.86H499.8V334.7H490.56ZM490.56 334.3H496.85V337.14H490.56ZM502.35 334.3H505.7V337.14H502.35ZM487.61 336.74H493.9V339.58H487.61ZM499.4 336.74H502.75V339.58H499.4ZM437.49 339.18H443.79V342.02H437.49ZM466.97 339.18H476.22V342.02H466.97ZM487.61 339.18H496.85V342.02H487.61ZM437.49 341.62H443.79V344.46H437.49ZM464.02 341.62H476.22V344.46H464.02ZM484.66 341.62H490.96V344.46H484.66ZM464.02 344.06H476.22V346.9H464.02ZM487.61 344.06H490.96V346.9H487.61ZM466.97 346.5H490.96V349.34H466.97ZM464.02 348.94H488.01V351.78H464.02ZM464.02 351.38H485.06V354.22H464.02ZM461.08 353.82H464.42V356.66H461.08ZM469.92 353.82H479.16V356.66H469.92ZM461.08 356.26H464.42V359.1H461.08ZM469.92 356.26H476.22V359.1H469.92ZM464.02 358.7H473.27V361.54H464.02ZM464.02 361.14H470.32V363.98H464.02Z"/>
<path fill="#6a188e" d="M496.45 334.3H502.75V337.14H496.45ZM493.5 336.74H499.8V339.58H493.5ZM475.82 341.62H485.06V344.46H475.82ZM475.82 344.06H488.01V346.9H475.82ZM464.02 353.82H470.32V356.66H464.02ZM464.02 356.26H470.32V359.1H464.02Z"/>
<path fill="#84eec6" d="M540.67 358.7H544.02V361.54H540.67Z"/>
</g>
<g fill="none" stroke="#0c0c0c" stroke-width="0.66" stroke-linejoin="round" stroke-linecap="round" filter="url(#soft3)">
<path d="M425.9 387.2L428.55 387.2L428.55 389.16L430.91 388.91L432.68 390.38L434.45 391.6L435.04 393.3L436.51 394.28L438.87 394.52L440.05 395.5L440.64 396.72M444.77 396.72L445.95 394.77L447.42 394.28L449.48 393.79L452.14 392.33L453.02 389.64L453.32 386.96L452.43 383.79L451.25 381.84L450.07 380.37L448.01 379.15L445.65 377.2L444.77 375.74L442.7 373.78L443.29 371.34L445.06 370.37L445.95 368.9L448.01 368.17L449.48 367.44L450.96 366.71L452.73 367.44L454.2 367.2L454.79 368.66L454.5 370.12L455.97 370.37L456.85 369.64L456.56 368.17L458.33 367.44L460.69 366.95L463.63 366.46L465.7 365.73L465.99 364.27L467.17 365L469.83 364.51L471.89 364.27L474.54 363.54L476.61 362.32L478.96 360.36L481.03 359.14L482.8 357.68L483.98 355.73L485.15 354.26L486.63 352.31L488.99 350.6L489.58 348.65L490.46 346.94L488.1 345.97L487.22 345.97L488.99 344.99L490.46 344.26L490.17 342.55L487.51 340.36L486.04 337.43L482.8 334.99L482.5 334.26L483.68 333.04L485.74 332.06L486.92 331.08L489.28 330.11L492.23 329.86L492.52 328.64L489.28 328.4L487.22 327.67L484.86 328.64L482.5 329.13L481.62 328.16L479.85 326.94L478.08 326.2L478.08 324.74L479.85 324.5L482.5 323.76L484.27 322.3L487.22 321.08L488.4 320.1L491.05 320.84L491.35 321.57L489.28 323.28L488.4 325.23L489.87 324.74L492.23 323.52L495.18 322.79L497.54 322.54L498.72 323.28L500.48 323.76L499.89 325.47L498.72 326.94L500.48 327.91L502.84 327.91L504.32 329.13L503.73 330.6L504.32 332.55L503.43 334.74L504.02 336.21L506.38 335.23L507.56 334.99L509.92 334.5L511.69 334.26L512.87 332.55L512.57 330.6L512.28 328.89L510.51 326.94L509.33 325.72L506.97 324.01L507.26 322.79L509.33 322.06L511.98 320.84L513.46 319.86L513.75 318.4L515.52 316.69L516.4 316.69L517.88 315.96L519.94 314.74L521.42 314.25L523.77 315.47L526.13 314.98L529.67 313.52L532.03 311.32L534.98 308.88L538.22 306.44L539.69 304.98L541.76 303.02L544.41 301.56L545 299.12L545.59 296.68L545.88 294.48L547.65 292.53L547.65 290.82L546.47 289.6L543.82 287.9L539.99 287.65L539.1 288.63L536.16 288.63L534.39 286.68L537.63 285.7L529.67 285.94L551.19 275.45L560.33 274.96L569.47 275.21L573.3 274.48M551.19 287.16L552.66 289.12L553.55 291.07L553.25 294.24L554.43 297.17L556.2 299.61L557.68 300.83L554.43 299.85L552.37 302.05L551.78 304.24L552.96 305.46L554.14 306.93L552.07 306.2L550.01 307.9L549.42 305.46L550.01 302.78L550.31 300.34L550.01 297.9L550.31 295.46L548.83 293.02L549.13 289.85L551.19 287.16M549.42 308.88L553.25 311.56L556.5 312.54L559.44 311.81L559.15 313.52L560.92 314L557.97 315.22L553.55 317.42L549.13 315.96L546.77 316.2L545 316.69L547.06 317.91L544.41 318.88L543.82 317.42L543.23 315.96L545.29 314.25L547.65 314.25L548.83 311.32L549.42 308.88M546.47 318.64L548.24 318.88L548.24 321.08L549.72 323.28L548.24 326.45L546.77 327.18L546.77 329.62L545.59 331.33L546.47 332.79L545 334.01L543.53 334.74L543.23 333.28L542.64 334.01L541.17 334.26L540.28 335.48L539.4 334.5L538.51 335.48L534.98 335.48L534.68 334.5L533.8 335.72L534.68 336.21L532.91 336.7L531.44 338.16L529.37 337.18L529.37 336.21L530.26 335.48L527.02 335.23L523.77 336.21L521.42 336.21L520.53 337.18L517.29 336.94L516.99 335.96L518.47 335.72L522 333.52L524.07 333.04L527.02 333.04L529.96 332.79L532.03 332.79L532.32 331.33L534.09 329.86L535.86 328.4L534.98 330.11L536.16 330.11L539.4 328.64L542.05 326.69L543.23 324.74L543.82 322.54L543.53 320.84L544.7 319.37L546.47 318.64M527.9 336.45L528.2 337.43L526.72 338.65L524.95 338.16L523.18 340.11L521.71 339.38L521.42 338.16L522.89 336.94L524.95 336.45L527.9 336.45M516.99 337.18L519.35 337.92L519.94 339.38L518.47 342.8L517.58 343.53L516.4 344.26L514.93 343.53L514.93 341.82L516.11 340.36L514.93 339.87L513.75 340.36L513.46 338.89L515.52 337.92L516.99 337.18M489.28 358.17L490.76 358.9L489.58 361.34L488.99 363.54L487.51 366.22L486.63 365.24L485.15 363.78L485.45 361.83L486.92 359.88L487.81 358.9L489.28 358.17M453.32 371.34L456.26 370.86L458.33 371.83L456.85 374.03L454.5 375.49L451.55 374.76L451.25 372.81L453.32 371.34M486.63 374.76L491.35 375L491.64 378.42L489.28 381.1L489.87 385.01L493.7 385.98L496.95 389.16L494.59 388.18L492.52 387.69L490.76 386.23L487.81 386.47L486.63 384.76L487.51 384.03L485.15 383.79L484.57 380.37L486.04 379.4L486.04 376.96L486.63 374.76M486.04 387.2L488.4 387.2L489.28 389.4L488.1 390.13L487.22 388.91L486.04 387.2M497.54 389.4L500.48 389.4L501.66 392.57L499.6 395.5L499.01 393.3L497.54 391.84L497.54 389.4M490.76 390.86L494 391.84L492.52 394.28L490.46 394.28L490.76 390.86M493.7 393.3L495.18 393.55L494.59 396.72M492.23 396.72L491.94 395.5L493.7 393.3M496.65 392.57L494.88 396.48M494.29 389.4L496.65 390.62L495.47 390.86L494.29 389.4M483.39 392.08L482.8 394.04L480.44 396.23M500.78 395.99L502.25 396.72M497.83 392.08L499.31 392.33L499.6 394.52L499.01 395.26L498.72 393.79L497.83 393.3L497.83 392.08M496.06 395.26L498.13 395.26L498.42 396.23L496.65 396.48L496.06 395.26M490.17 386.96L491.05 387.2L490.76 387.69L490.17 386.96M496.95 385.74L497.83 385.98L497.54 386.72L496.95 385.74M490.76 389.16L491.35 389.64L491.05 390.38M492.23 389.4L492.82 389.64M484.57 389.89L485.74 390.62M496.95 392.33L496.36 394.04M437.1 293.75L439.46 294.24L442.41 293.26L445.36 291.8L448.89 290.34L452.14 288.38L454.2 285.94L455.09 283.75L453.91 283.75L452.14 286.19L449.78 288.14L446.83 289.6L443.88 290.82L440.93 292.29L438.58 293.14L437.1 293.75M425.9 293.75L429.44 294.24L432.39 294.73L432.68 296.44L435.63 297.41L441.82 296.92L445.65 297.17L451.25 299.61L457.74 300.1L463.63 299.12L468.06 297.17L475.13 298.39L478.37 299.12L482.5 297.66L482.8 296.44L485.15 294L486.92 293.02L484.86 291.07L487.51 289.85L491.64 289.36L495.47 289.36L501.37 290.34L504.02 292.53L506.97 297.41L507.26 298.39L512.87 299.36L516.4 300.58L516.99 303.51L521.71 303.51L527.9 301.8L527.9 303.76L525.84 306.93L523.48 309.86L519.94 309.37L517.29 310.34L518.17 313.76L516.11 316.44M475.13 298.39L473.07 300.83L472.48 302.29L477.2 303.51L480.44 303.02L483.98 305.22L481.91 305.95L477.2 306.68L474.84 306.93L472.18 308.88L468.65 309.12L465.99 310.59L460.98 310.1L459.51 311.56L460.98 313.27L456.56 315.47L453.32 316.44L446.54 316.69L440.64 318.4L439.17 317.66L434.74 317.42L431.21 316.2L425.9 315.71M497.54 322.54L499.6 320.84L502.55 319.86L505.2 317.91L508.44 318.64L509.33 317.42L512.28 316.44L514.05 314.98L516.11 316.44M502.84 327.91L506.09 326.45L509.62 325.72M449.48 367.44L446.54 366.71L445.65 364.02L441.52 363.05L440.05 364.27L437.4 365L434.45 365L432.09 365.24L430.91 365L430.62 368.17L429.44 368.17L426.19 370.37M432.09 365.24L434.74 366.95L435.04 369.15L439.17 369.39L440.35 371.59L437.4 372.81L441.23 374.52L442.7 376.71L445.06 378.42L447.42 380.62L448.01 383.3L448.3 384.03L448.01 388.18L448.3 389.89L444.77 390.86L443.29 391.6L443.88 393.3L440.93 393.3L439.17 394.52M448.3 384.03L445.06 384.52L443.29 385.98L441.23 385.01L437.69 384.89L434.74 385.25L433.27 386.72L432.98 388.42L434.45 391.35M441.23 385.01L442.41 381.59L439.76 379.64L439.76 377.44L437.69 375.25L434.74 375.98L432.09 375.49L429.44 377.2L429.14 374.76L429.73 372.32L427.37 372.32L427.08 370.61L426.19 370.37L425.9 370.12M436.81 387.45L437.99 387.94L439.17 389.16L438.58 389.4L437.4 388.42L436.81 387.45"/>
<path stroke-width="1.1" d="M559.74 313.03L561.8 311.32M564.16 311.32L567.4 309.12M569.17 308.64L571.83 307.42M572.42 306.93L573.3 306.44"/>
<path stroke-width="0.7" stroke="#333" d="M515.52 345.72L516.11 345.97M512.28 351.09L513.46 350.36M507.56 355.97L509.03 354.51M496.65 360.36L497.54 360.12M500.48 359.39L500.78 359.63M511.1 352.31L511.39 351.82M516.99 345.24L517.29 345.72M504.91 355.73L505.2 355.48M495.77 360.61L496.36 360.36M490.46 370.12L490.76 369.88M490.17 373.54L490.46 372.81M484.86 390.62L485.45 390.13M484.27 390.86L484.57 390.62"/>
<path stroke-width="0.5" stroke="#666" stroke-dasharray="0.5 1.5" d="M558.27 388.18L558.82 386.96L559.34 385.74L559.82 384.52L560.24 383.3L560.56 382.08L560.79 380.86L560.9 379.64L560.9 378.42L560.79 377.2L560.56 375.98L560.24 374.76L559.82 373.54L559.34 372.32L558.82 371.1L558.27 369.88"/>
<path stroke-width="0.9" stroke="#333" d="M557.68 387.69l0.5 -0.9"/>
<path stroke-width="0.5" stroke="#555" stroke-dasharray="0.6 1.1" d="M550.31 353.78L550.01 355"/>
</g>
</g>
<g fill="none" stroke="#6e6e6e" stroke-width="0.9" filter="url(#soft2)">
<rect x="425.9" y="273.5" width="147.4" height="122.1"/>
<path stroke="#3c3c3c" stroke-width="0.95" d="M423.4 395.6H573.8"/>
<path d="M423.4 273.5H425.9"/>
<path d="M425.9 297.9h-3.2M425.9 322.3h-3.2M425.9 346.7h-3.2M425.9 371.1h-3.2M425.9 395.6v4.2M455.38 395.6v4.2M484.86 395.6v4.2M514.34 395.6v4.2M543.82 395.6v4.2M573.3 395.6v4.2"/>
</g>
<g fill="#1c1c1c" stroke="#1c1c1c" stroke-width="0.28" filter="url(#soft2)">
<text x="403.5" y="301.8" font-size="11" textLength="17.3" lengthAdjust="spacingAndGlyphs">50°N</text>
<text x="403.5" y="326.2" font-size="11" textLength="17.3" lengthAdjust="spacingAndGlyphs">40°N</text>
<text x="403.5" y="350.6" font-size="11" textLength="17.3" lengthAdjust="spacingAndGlyphs">30°N</text>
<text x="403.5" y="375" font-size="11" textLength="17.3" lengthAdjust="spacingAndGlyphs">20°N</text>
<text x="445.78" y="413.6" font-size="12.2" textLength="20" lengthAdjust="spacingAndGlyphs">110°E</text>
<text x="475.26" y="413.6" font-size="12.2" textLength="20" lengthAdjust="spacingAndGlyphs">120°E</text>
<text x="504.74" y="413.6" font-size="12.2" textLength="20" lengthAdjust="spacingAndGlyphs">130°E</text>
<text x="534.22" y="413.6" font-size="12.2" textLength="20" lengthAdjust="spacingAndGlyphs">140°E</text>
<text x="441.4" y="268.5" font-size="7.3" textLength="116.6" lengthAdjust="spacingAndGlyphs" stroke-width="0.2">[gosan] 14/03/18 03:00 - 14/03/18 06:00_EastAsia</text>
</g>
<g filter="url(#soft2)">
<rect x="576.2" y="273.5" width="7.8" height="121.9" fill="url(#cb)" stroke="#888" stroke-width="0.5"/>
<path d="M584.3 275.4h-3.2M584.3 286.95h-3.2M584.3 283.47h-1.9M584.3 281.44h-1.9M584.3 280h-1.9M584.3 278.88h-1.9M584.3 277.96h-1.9M584.3 277.19h-1.9M584.3 276.52h-1.9M584.3 275.93h-1.9M584.3 298.5h-3.2M584.3 295.02h-1.9M584.3 292.99h-1.9M584.3 291.55h-1.9M584.3 290.43h-1.9M584.3 289.51h-1.9M584.3 288.74h-1.9M584.3 288.07h-1.9M584.3 287.48h-1.9M584.3 310.05h-3.2M584.3 306.57h-1.9M584.3 304.54h-1.9M584.3 303.1h-1.9M584.3 301.98h-1.9M584.3 301.06h-1.9M584.3 300.29h-1.9M584.3 299.62h-1.9M584.3 299.03h-1.9M584.3 321.6h-3.2M584.3 318.12h-1.9M584.3 316.09h-1.9M584.3 314.65h-1.9M584.3 313.53h-1.9M584.3 312.61h-1.9M584.3 311.84h-1.9M584.3 311.17h-1.9M584.3 310.58h-1.9M584.3 333.15h-3.2M584.3 329.67h-1.9M584.3 327.64h-1.9M584.3 326.2h-1.9M584.3 325.08h-1.9M584.3 324.16h-1.9M584.3 323.39h-1.9M584.3 322.72h-1.9M584.3 322.13h-1.9M584.3 344.7h-3.2M584.3 341.22h-1.9M584.3 339.19h-1.9M584.3 337.75h-1.9M584.3 336.63h-1.9M584.3 335.71h-1.9M584.3 334.94h-1.9M584.3 334.27h-1.9M584.3 333.68h-1.9M584.3 356.25h-3.2M584.3 352.77h-1.9M584.3 350.74h-1.9M584.3 349.3h-1.9M584.3 348.18h-1.9M584.3 347.26h-1.9M584.3 346.49h-1.9M584.3 345.82h-1.9M584.3 345.23h-1.9M584.3 367.8h-3.2M584.3 364.32h-1.9M584.3 362.29h-1.9M584.3 360.85h-1.9M584.3 359.73h-1.9M584.3 358.81h-1.9M584.3 358.04h-1.9M584.3 357.37h-1.9M584.3 356.78h-1.9M584.3 379.35h-3.2M584.3 375.87h-1.9M584.3 373.84h-1.9M584.3 372.4h-1.9M584.3 371.28h-1.9M584.3 370.36h-1.9M584.3 369.59h-1.9M584.3 368.92h-1.9M584.3 368.33h-1.9M584.3 390.9h-3.2M584.3 387.42h-1.9M584.3 385.39h-1.9M584.3 383.95h-1.9M584.3 382.83h-1.9M584.3 381.91h-1.9M584.3 381.14h-1.9M584.3 380.47h-1.9M584.3 379.88h-1.9M584.3 394.38h-1.9M584.3 393.46h-1.9M584.3 392.69h-1.9M584.3 392.02h-1.9M584.3 391.43h-1.9" stroke="#1a1a1a" stroke-width="0.7" fill="none"/>
<text x="587.9" y="278.4" font-size="6.6" fill="#2a2a2a" textLength="4.6" lengthAdjust="spacingAndGlyphs">10</text>
<text x="592.7" y="275.3" font-size="4.9" fill="#2a2a2a" textLength="2.9" lengthAdjust="spacingAndGlyphs">-8</text>
<text x="587.9" y="289.95" font-size="6.6" fill="#2a2a2a" textLength="4.6" lengthAdjust="spacingAndGlyphs">10</text>
<text x="592.7" y="286.85" font-size="4.9" fill="#2a2a2a" textLength="2.9" lengthAdjust="spacingAndGlyphs">-9</text>
<text x="587.9" y="301.5" font-size="6.6" fill="#2a2a2a" textLength="4.6" lengthAdjust="spacingAndGlyphs">10</text>
<text x="592.7" y="298.4" font-size="4.9" fill="#2a2a2a" textLength="4.3" lengthAdjust="spacingAndGlyphs">-10</text>
<text x="587.9" y="313.05" font-size="6.6" fill="#2a2a2a" textLength="4.6" lengthAdjust="spacingAndGlyphs">10</text>
<text x="592.7" y="309.95" font-size="4.9" fill="#2a2a2a" textLength="4.3" lengthAdjust="spacingAndGlyphs">-11</text>
<text x="587.9" y="324.6" font-size="6.6" fill="#2a2a2a" textLength="4.6" lengthAdjust="spacingAndGlyphs">10</text>
<text x="592.7" y="321.5" font-size="4.9" fill="#2a2a2a" textLength="4.3" lengthAdjust="spacingAndGlyphs">-12</text>
<text x="587.9" y="336.15" font-size="6.6" fill="#2a2a2a" textLength="4.6" lengthAdjust="spacingAndGlyphs">10</text>
<text x="592.7" y="333.05" font-size="4.9" fill="#2a2a2a" textLength="4.3" lengthAdjust="spacingAndGlyphs">-13</text>
<text x="587.9" y="347.7" font-size="6.6" fill="#2a2a2a" textLength="4.6" lengthAdjust="spacingAndGlyphs">10</text>
<text x="592.7" y="344.6" font-size="4.9" fill="#2a2a2a" textLength="4.3" lengthAdjust="spacingAndGlyphs">-14</text>
<text x="587.9" y="359.25" font-size="6.6" fill="#2a2a2a" textLength="4.6" lengthAdjust="spacingAndGlyphs">10</text>
<text x="592.7" y="356.15" font-size="4.9" fill="#2a2a2a" textLength="4.3" lengthAdjust="spacingAndGlyphs">-15</text>
<text x="587.9" y="370.8" font-size="6.6" fill="#2a2a2a" textLength="4.6" lengthAdjust="spacingAndGlyphs">10</text>
<text x="592.7" y="367.7" font-size="4.9" fill="#2a2a2a" textLength="4.3" lengthAdjust="spacingAndGlyphs">-16</text>
<text x="587.9" y="382.35" font-size="6.6" fill="#2a2a2a" textLength="4.6" lengthAdjust="spacingAndGlyphs">10</text>
<text x="592.7" y="379.25" font-size="4.9" fill="#2a2a2a" textLength="4.3" lengthAdjust="spacingAndGlyphs">-17</text>
<text x="587.9" y="393.9" font-size="6.6" fill="#2a2a2a" textLength="4.6" lengthAdjust="spacingAndGlyphs">10</text>
<text x="592.7" y="390.8" font-size="4.9" fill="#2a2a2a" textLength="4.3" lengthAdjust="spacingAndGlyphs">-18</text>
</g>
</g>
</svg></body></html>
